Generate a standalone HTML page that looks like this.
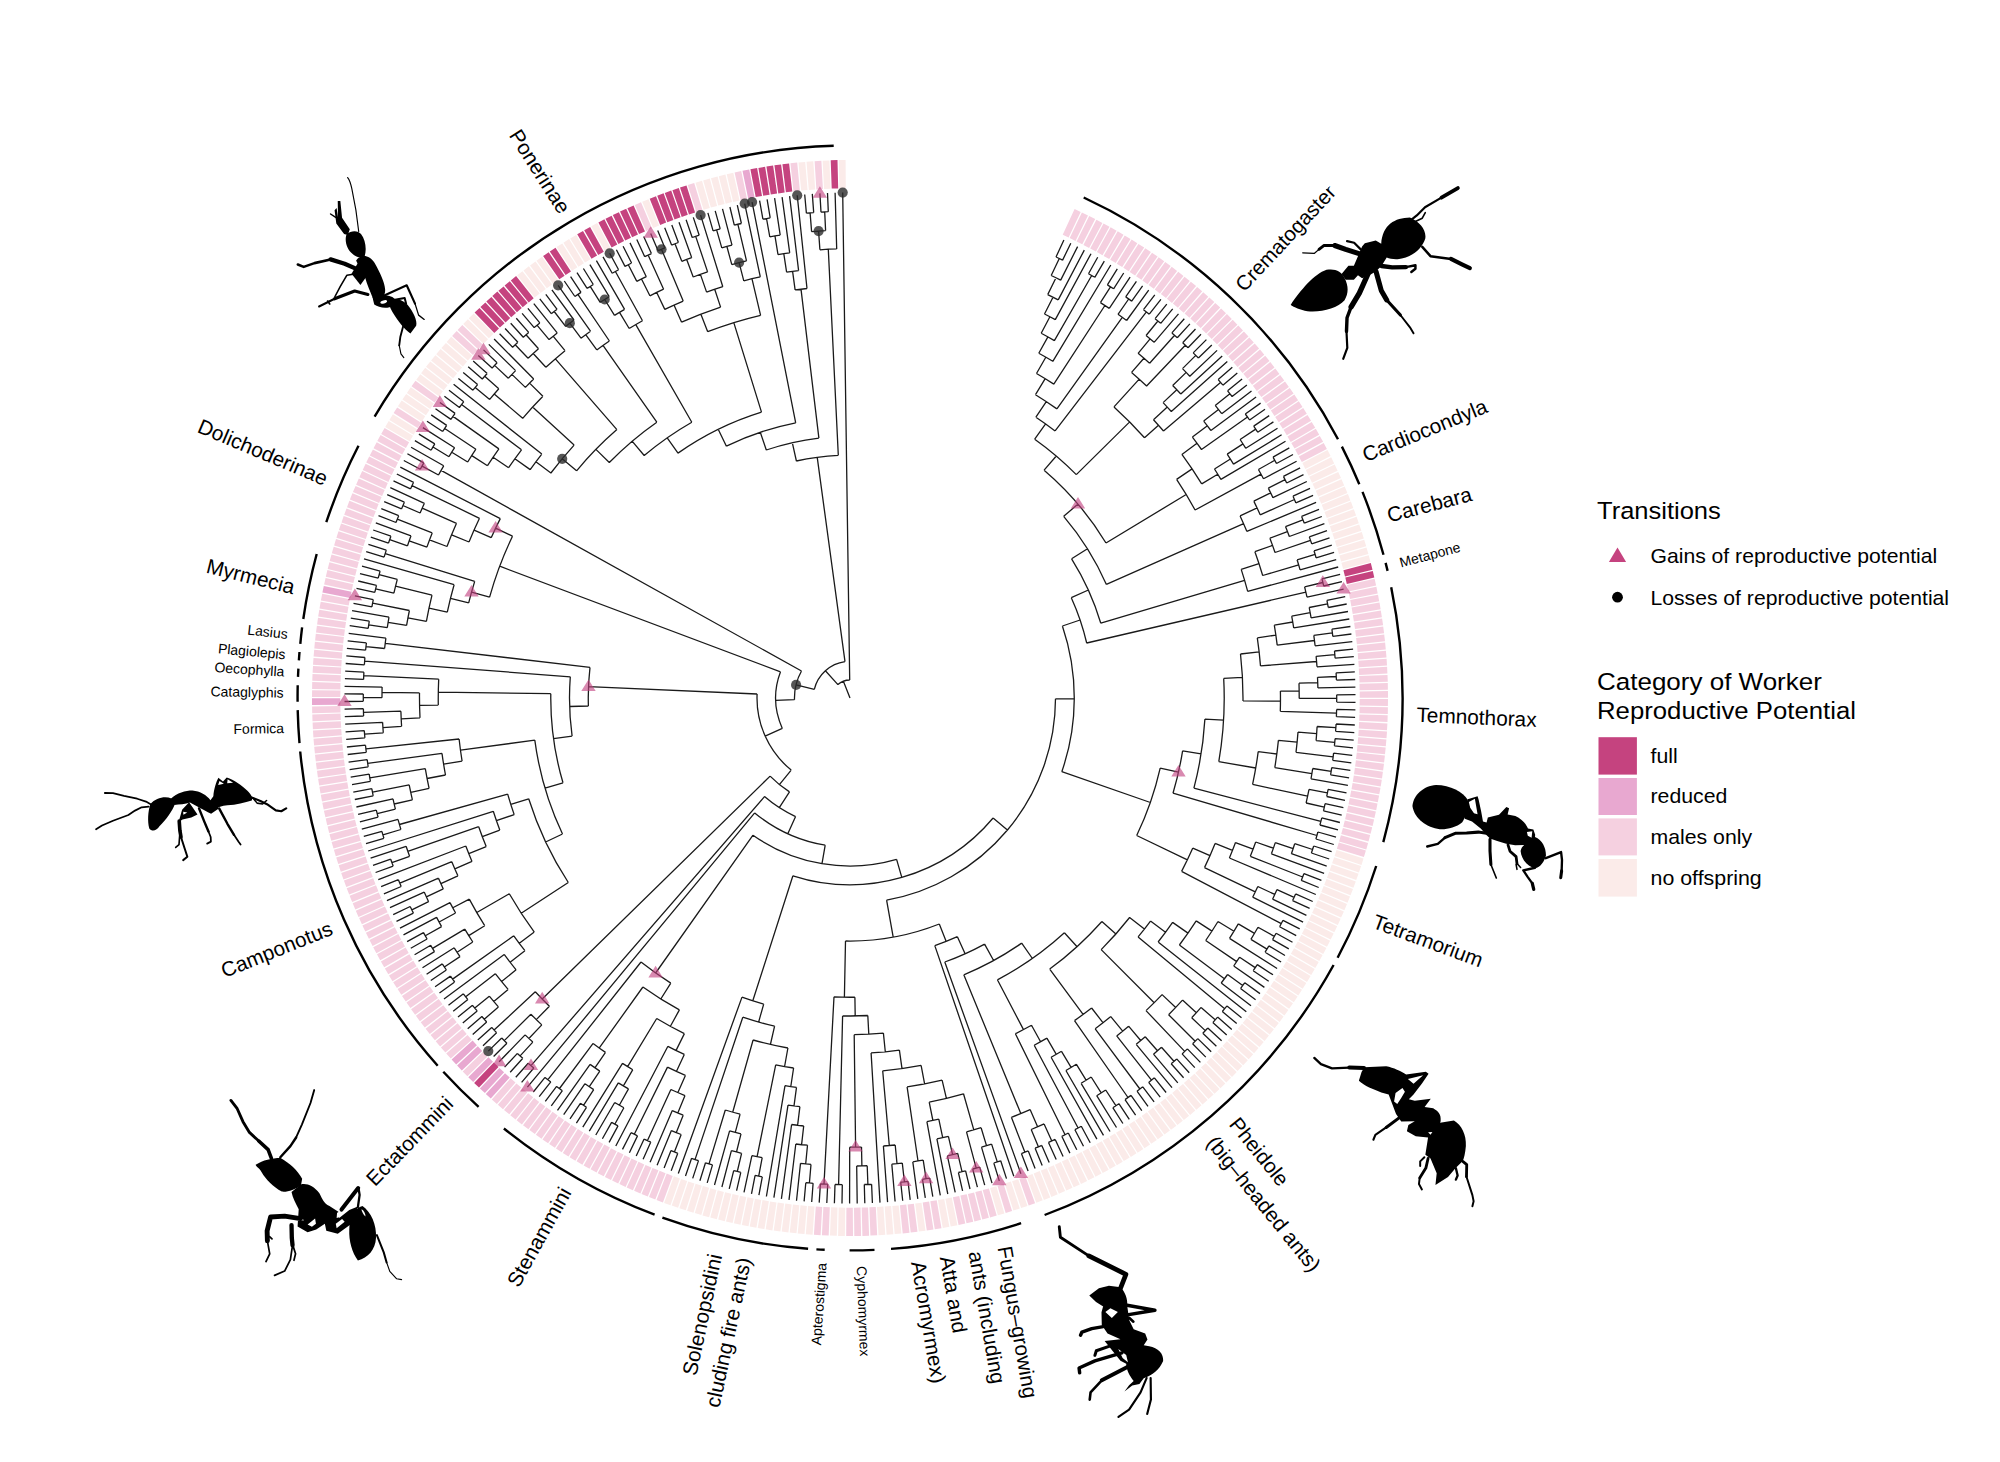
<!DOCTYPE html>
<html><head><meta charset="utf-8"><title>Ant phylogeny</title>
<style>
html,body{margin:0;padding:0;background:#fff;overflow:hidden}
svg{display:block}
text{font-family:"Liberation Sans",sans-serif;fill:#000}
</style></head><body>
<svg width="2000" height="1462" viewBox="0 0 2000 1462">
<rect width="2000" height="1462" fill="#fff"/>
<path fill="#fbebe9" d="M845.8 188.3L845.6 160L838.8 160.1L839.4 188.4ZM830.5 188.7L829.4 160.4L822.6 160.7L824.1 189ZM815.2 189.5L813.3 161.3L806.5 161.8L808.8 190ZM807.6 190.1L805.2 161.9L798.5 162.5L801.2 190.6ZM739.5 200.4L733.3 172.8L726.7 174.3L733.2 201.9ZM732 202.1L725.4 174.6L718.8 176.2L725.7 203.7ZM724.6 204L717.6 176.5L711 178.3L718.3 205.6ZM717.1 205.9L709.8 178.6L703.2 180.4L710.9 207.6ZM709.8 208L702 180.8L695.5 182.7L703.6 209.8ZM659.1 225.4L648.5 199.2L642.2 201.8L653.1 227.9ZM610.5 248.1L597.2 223.1L591.2 226.3L604.8 251.1ZM590.5 259.3L576.1 235L570.2 238.5L585 262.6ZM583.9 263.3L569.1 239.1L563.4 242.7L578.4 266.7ZM577.4 267.3L562.3 243.4L556.5 247.1L572 270.8ZM558.3 280L542.1 256.8L536.5 260.8L553 283.8ZM552 284.5L535.5 261.5L530 265.5L546.8 288.3ZM545.8 289L528.9 266.3L523.5 270.4L540.7 292.9ZM539.7 293.6L522.5 271.2L517.1 275.3L534.6 297.6ZM493.5 333.8L473.7 313.5L468.8 318.3L488.9 338.3ZM488 339.2L467.9 319.2L463.2 324.1L483.5 343.8ZM472.2 355.8L451.2 336.8L446.7 341.9L467.9 360.6ZM467.1 361.6L445.9 342.9L441.4 348L462.9 366.4ZM462.1 367.4L440.6 349L436.2 354.2L458 372.3ZM457.2 373.2L435.4 355.2L431.1 360.4L453.1 378.2ZM452.3 379.2L430.3 361.5L426 366.8L448.3 384.2ZM447.6 385.2L425.2 367.8L421.1 373.2L443.7 390.3ZM442.9 391.3L420.3 374.2L416.3 379.7L439.1 396.4ZM433.9 403.6L410.8 387.3L406.9 392.9L430.2 408.9ZM429.5 409.9L406.2 393.9L402.4 399.6L425.9 415.2ZM425.2 416.3L401.7 400.6L397.9 406.3L421.7 421.7ZM417 429.2L392.9 414.2L389.4 420L413.6 434.7ZM413 435.7L388.7 421.1L385.2 427L409.7 441.2ZM673.9 1176.3L664.1 1202.9L670.5 1205.2L679.9 1178.5ZM681.1 1178.9L671.7 1205.6L678.1 1207.8L687.2 1181ZM688.3 1181.4L679.4 1208.2L685.8 1210.3L694.5 1183.4ZM695.6 1183.8L687.1 1210.7L693.5 1212.7L701.8 1185.7ZM702.9 1186L694.8 1213.1L701.3 1215L709.1 1187.8ZM710.3 1188.2L702.5 1215.4L709.1 1217.2L716.5 1189.9ZM717.7 1190.2L710.3 1217.6L716.9 1219.3L723.9 1191.9ZM725.1 1192.2L718.2 1219.6L724.8 1221.2L731.3 1193.7ZM732.5 1194L726 1221.5L732.6 1223L738.8 1195.4ZM740 1195.7L733.9 1223.3L740.5 1224.7L746.3 1197ZM747.5 1197.3L741.8 1225L748.5 1226.3L753.8 1198.5ZM755 1198.8L749.7 1226.6L756.4 1227.8L761.3 1199.9ZM762.5 1200.1L757.7 1228L764.4 1229.1L768.9 1201.2ZM770.1 1201.4L765.7 1229.3L772.4 1230.4L776.5 1202.4ZM777.7 1202.5L773.7 1230.6L780.4 1231.5L784.1 1203.4ZM785.3 1203.6L781.7 1231.6L788.4 1232.5L791.7 1204.4ZM792.9 1204.5L789.7 1232.6L796.5 1233.3L799.3 1205.2ZM800.5 1205.3L797.7 1233.5L804.5 1234.1L806.9 1205.9ZM808.1 1206L805.8 1234.2L812.6 1234.7L814.5 1206.5ZM831.1 1207.3L830 1235.6L836.8 1235.8L837.5 1207.5ZM838.7 1207.6L838.1 1235.9L844.9 1236L845.2 1207.7ZM877 1207L878.5 1235.2L885.3 1234.8L883.4 1206.6ZM884.7 1206.5L886.6 1234.8L893.4 1234.2L891.1 1206ZM892.3 1205.9L894.7 1234.1L901.4 1233.5L898.7 1205.4ZM915.2 1203.5L918.8 1231.6L925.5 1230.7L921.5 1202.7ZM937.9 1200.1L942.8 1227.9L949.4 1226.7L944.2 1198.9ZM945.4 1198.7L950.7 1226.5L957.4 1225.2L951.7 1197.4ZM990.1 1188.1L997.9 1215.3L1004.4 1213.4L996.3 1186.3ZM1004.8 1183.6L1013.4 1210.6L1019.8 1208.5L1010.9 1181.6ZM1012.1 1181.2L1021.1 1208.1L1027.5 1205.9L1018.2 1179.2ZM1026.5 1176.2L1036.3 1202.7L1042.7 1200.3L1032.5 1173.9ZM1033.7 1173.5L1043.9 1199.9L1050.2 1197.4L1039.7 1171.1ZM1040.8 1170.6L1051.4 1196.9L1057.7 1194.3L1046.8 1168.2ZM1047.9 1167.7L1058.9 1193.8L1065.1 1191.1L1053.8 1165.2ZM1054.9 1164.7L1066.3 1190.6L1072.5 1187.8L1060.8 1162.1ZM1061.9 1161.6L1073.7 1187.3L1079.8 1184.4L1067.8 1158.8ZM1068.9 1158.3L1081 1183.9L1087.1 1180.9L1074.7 1155.5ZM1075.8 1155L1088.3 1180.3L1094.4 1177.3L1081.5 1152.1ZM1082.6 1151.5L1095.5 1176.7L1101.5 1173.6L1088.3 1148.6ZM1089.4 1148L1102.7 1173L1108.7 1169.7L1095.1 1144.9ZM1096.1 1144.3L1109.8 1169.1L1115.7 1165.8L1101.7 1141.2ZM1102.8 1140.6L1116.8 1165.2L1122.7 1161.8L1108.4 1137.4ZM1109.4 1136.7L1123.8 1161.1L1129.7 1157.6L1114.9 1133.4ZM1116 1132.8L1130.8 1156.9L1136.5 1153.3L1121.5 1129.4ZM1122.5 1128.7L1137.6 1152.7L1143.3 1149L1127.9 1125.3ZM1128.9 1124.6L1144.4 1148.3L1150.1 1144.5L1134.3 1121ZM1135.3 1120.4L1151.2 1143.8L1156.8 1140L1140.6 1116.7ZM1141.6 1116L1157.8 1139.2L1163.4 1135.3L1146.9 1112.3ZM1147.9 1111.6L1164.4 1134.6L1169.9 1130.5L1153.1 1107.8ZM1154.1 1107.1L1171 1129.8L1176.4 1125.7L1159.2 1103.2ZM1160.2 1102.4L1177.4 1124.9L1182.8 1120.7L1165.3 1098.5ZM1166.2 1097.7L1183.8 1119.9L1189.1 1115.7L1171.2 1093.7ZM1172.2 1092.9L1190.1 1114.9L1195.3 1110.5L1177.2 1088.8ZM1178.1 1088.1L1196.3 1109.7L1201.5 1105.3L1183 1083.9ZM1183.9 1083.1L1202.5 1104.5L1207.6 1100L1188.8 1078.8ZM1189.7 1078L1208.5 1099.1L1213.6 1094.6L1194.4 1073.7ZM1195.3 1072.9L1214.5 1093.7L1219.5 1089.1L1200.1 1068.5ZM1200.9 1067.6L1220.4 1088.2L1225.3 1083.5L1205.6 1063.2ZM1206.5 1062.3L1226.3 1082.5L1231.1 1077.8L1211 1057.8ZM1211.9 1056.9L1232 1076.9L1236.7 1072L1216.4 1052.3ZM1217.2 1051.4L1237.6 1071.1L1242.3 1066.1L1221.7 1046.8ZM1222.5 1045.9L1243.2 1065.2L1247.8 1060.2L1226.9 1041.2ZM1227.7 1040.2L1248.7 1059.2L1253.2 1054.2L1232 1035.4ZM1232.8 1034.5L1254.1 1053.2L1258.5 1048.1L1237 1029.7ZM1237.8 1028.7L1259.4 1047.1L1263.7 1041.9L1242 1023.8ZM1242.7 1022.9L1264.6 1040.9L1268.9 1035.6L1246.8 1017.9ZM1247.6 1016.9L1269.7 1034.6L1273.9 1029.3L1251.6 1011.9ZM1252.3 1010.9L1274.7 1028.3L1278.8 1022.9L1256.3 1005.8ZM1257 1004.8L1279.6 1021.9L1283.6 1016.4L1260.8 999.7ZM1261.6 998.7L1284.4 1015.4L1288.4 1009.9L1265.3 993.5ZM1266 992.5L1289.1 1008.8L1293 1003.2L1269.7 987.2ZM1270.4 986.2L1293.8 1002.2L1297.6 996.6L1274 980.8ZM1274.7 979.8L1298.3 995.5L1302 989.8L1278.2 974.4ZM1278.9 973.4L1302.7 988.7L1306.3 983L1282.3 968ZM1283 966.9L1307 981.9L1310.6 976.1L1286.3 961.4ZM1287 960.4L1311.2 975L1314.7 969.1L1290.2 954.9ZM1290.9 953.8L1315.3 968L1318.7 962.1L1294.1 948.2ZM1294.7 947.1L1319.3 961L1322.6 955L1297.8 941.5ZM1298.4 940.4L1323.2 953.9L1326.4 947.9L1301.4 934.8ZM1301.9 933.7L1327 946.8L1330.1 940.7L1304.9 927.9ZM1305.4 926.9L1330.7 939.6L1333.7 933.5L1308.3 921.1ZM1308.8 920L1334.3 932.3L1337.2 926.2L1311.6 914.2ZM1312.1 913.1L1337.8 925L1340.6 918.8L1314.8 907.2ZM1315.3 906.1L1341.1 917.6L1343.9 911.4L1317.9 900.2ZM1318.4 899.1L1344.4 910.2L1347 904L1320.9 893.1ZM1321.3 892L1347.5 902.8L1350 896.5L1323.7 886ZM1324.2 884.9L1350.5 895.3L1353 888.9L1326.5 878.9ZM1327 877.8L1353.4 887.7L1355.8 881.4L1329.2 871.7ZM1329.6 870.6L1356.2 880.1L1358.5 873.7L1331.7 864.5ZM1332.1 863.3L1358.9 872.5L1361.1 866.1L1334.2 857.2ZM1334.6 856.1L1361.5 864.9L1363.5 858.4L1336.5 849.9ZM1343.1 569L1370.5 561.9L1368.7 555.3L1341.4 562.8ZM1341.1 561.6L1368.4 554.1L1366.5 547.5L1339.4 555.4ZM1339 554.3L1366.2 546.3L1364.2 539.8L1337.2 548.1ZM1336.8 546.9L1363.8 538.5L1361.8 532.1L1334.9 540.8ZM1334.5 539.6L1361.4 530.8L1359.2 524.4L1332.4 533.5ZM1332 532.4L1358.8 523.2L1356.6 516.8L1329.9 526.3ZM1329.5 525.1L1356.1 515.5L1353.8 509.2L1327.3 519.1ZM1326.8 518L1353.3 508L1350.9 501.6L1324.5 511.9ZM1324.1 510.8L1350.4 500.4L1347.9 494.1L1321.7 504.8ZM1321.2 503.7L1347.4 492.9L1344.7 486.6L1318.7 497.8ZM1318.2 496.6L1344.2 485.5L1341.5 479.2L1315.7 490.7ZM1315.2 489.6L1341 478.1L1338.2 471.9L1312.5 483.8ZM1312 482.7L1337.6 470.7L1334.7 464.6L1309.2 476.8ZM1308.7 475.7L1334.2 463.4L1331.2 457.3L1305.8 470ZM1305.3 468.9L1330.6 456.1L1327.5 450.1L1302.4 463.1Z"/><path fill="#c5437f" d="M838.2 188.4L837.5 160.1L830.7 160.3L831.7 188.6ZM792.3 191.6L789.1 163.5L782.4 164.3L785.9 192.3ZM784.7 192.5L781.1 164.4L774.4 165.3L778.3 193.4ZM777.1 193.5L773.1 165.5L766.4 166.5L770.8 194.5ZM769.6 194.7L765.1 166.7L758.4 167.9L763.2 195.7ZM762 196L757.1 168.1L750.4 169.3L755.7 197.1ZM695.1 212.4L686.5 185.4L680 187.6L689 214.4ZM687.8 214.8L678.8 188L672.4 190.2L681.7 216.9ZM680.6 217.3L671.2 190.6L664.8 192.9L674.5 219.5ZM673.4 219.9L663.6 193.3L657.2 195.7L667.3 222.2ZM666.2 222.6L656 196.2L649.7 198.7L660.2 224.9ZM645 231.4L633.6 205.4L627.4 208.2L639.1 234ZM638 234.5L626.2 208.8L620 211.6L632.1 237.2ZM631 237.7L618.9 212.2L612.8 215.1L625.2 240.5ZM624.1 241.1L611.6 215.7L605.5 218.8L618.4 244ZM617.3 244.5L604.4 219.3L598.4 222.5L611.6 247.5ZM603.8 251.7L590.1 226.9L584.2 230.3L598.2 254.9ZM597.1 255.5L583 230.9L577.2 234.3L591.5 258.7ZM571 271.5L555.5 247.8L549.8 251.5L565.6 275ZM564.6 275.7L548.7 252.3L543.1 256.1L559.3 279.3ZM533.7 298.3L516.1 276.1L510.8 280.4L528.7 302.4ZM527.7 303.1L509.8 281.2L504.6 285.5L522.7 307.2ZM521.8 308L503.6 286.4L498.4 290.8L516.9 312.2ZM516 313L497.4 291.6L492.3 296.1L511.2 317.2ZM510.2 318.1L491.4 297L486.3 301.5L505.5 322.4ZM504.6 323.2L485.4 302.4L480.4 307L499.9 327.6ZM499 328.4L479.5 307.9L474.6 312.6L494.3 332.9ZM493.8 1062.6L474.1 1082.9L479 1087.6L498.5 1067.1ZM1346.8 583.9L1374.3 577.6L1372.8 571L1345.3 577.6ZM1345 576.4L1372.5 569.7L1370.8 563.1L1343.4 570.2Z"/><path fill="#f5d0e0" d="M822.9 189L821.4 160.8L814.6 161.2L816.4 189.4ZM799.9 190.8L797.2 162.6L790.4 163.3L793.5 191.4ZM747 198.8L741.2 171.1L734.6 172.5L740.7 200.2ZM702.4 210.1L694.2 183L687.7 185.1L696.3 212ZM652 228.3L641 202.3L634.8 204.9L646.1 230.9ZM482.7 344.6L462.3 325L457.6 329.9L478.2 349.3ZM477.4 350.2L456.7 330.9L452.1 335.9L473 354.9ZM438.4 397.4L415.5 380.7L411.5 386.2L434.6 402.6ZM421.1 422.7L397.2 407.4L393.6 413.1L417.6 428.1ZM409.1 442.3L384.6 428.1L381.2 434L405.9 447.9ZM405.3 449L380.6 435.1L377.3 441.1L402.2 454.6ZM401.6 455.7L376.7 442.2L373.5 448.2L398.6 461.3ZM398 462.4L372.9 449.4L369.8 455.4L395.1 468.2ZM394.5 469.3L369.2 456.6L366.2 462.6L391.7 475ZM391.1 476.1L365.6 463.8L362.7 469.9L388.4 481.9ZM387.8 483L362.2 471.1L359.4 477.3L385.2 488.9ZM384.7 490L358.8 478.5L356.1 484.7L382.1 495.9ZM381.6 497L355.6 485.9L352.9 492.1L379.1 503ZM378.6 504.1L352.4 493.3L349.9 499.6L376.2 510.1ZM375.8 511.2L349.4 500.8L347 507.2L373.4 517.2ZM373 518.4L346.5 508.4L344.2 514.8L370.8 524.4ZM370.4 525.5L343.7 516L341.5 522.4L368.2 531.6ZM367.8 532.8L341.1 523.6L338.9 530L365.8 538.9ZM365.4 540L338.5 531.3L336.4 537.7L363.4 546.2ZM363.1 547.3L336 539L334.1 545.5L361.2 553.5ZM360.9 554.7L333.7 546.7L331.8 553.2L359.1 560.9ZM358.8 562L331.5 554.5L329.7 561.1L357.1 568.3ZM356.8 569.4L329.4 562.3L327.7 568.9L355.2 575.7ZM354.9 576.9L327.4 570.1L325.8 576.8L353.4 583.1ZM353.1 584.3L325.6 578L324.1 584.6L351.7 590.6ZM349.9 599.3L322.2 593.8L320.9 600.5L348.7 605.6ZM348.5 606.8L320.7 601.8L319.5 608.5L347.4 613.2ZM347.2 614.4L319.3 609.7L318.2 616.4L346.2 620.7ZM346 622L318 617.7L317.1 624.5L345.1 628.3ZM344.9 629.5L316.9 625.7L316 632.5L344.1 635.9ZM343.9 637.1L315.8 633.8L315.1 640.5L343.2 643.5ZM343.1 644.7L314.9 641.8L314.3 648.5L342.5 651.2ZM342.3 652.4L314.2 649.8L313.6 656.6L341.8 658.8ZM341.7 660L313.5 657.9L313 664.7L341.3 666.4ZM341.2 667.6L313 666L312.6 672.7L340.9 674.1ZM340.8 675.3L312.5 674L312.3 680.8L340.6 681.7ZM340.5 683L312.2 682.1L312.1 688.9L340.4 689.4ZM340.4 690.6L312.1 690.2L312 697L340.3 697.1ZM340.4 705.9L312.1 706.4L312.2 713.2L340.5 712.4ZM340.5 713.6L312.3 714.5L312.5 721.2L340.8 720ZM340.8 721.3L312.6 722.5L312.9 729.3L341.2 727.7ZM341.2 728.9L313 730.6L313.4 737.4L341.7 735.3ZM341.8 736.5L313.5 738.7L314.1 745.5L342.3 743ZM342.4 744.2L314.2 746.7L314.9 753.5L343 750.6ZM343.1 751.8L315 754.8L315.8 761.5L343.9 758.2ZM344 759.4L315.9 762.8L316.8 769.6L344.8 765.8ZM345 767L317 770.8L317.9 777.6L345.9 773.4ZM346.1 774.6L318.1 778.8L319.2 785.6L347.1 781ZM347.3 782.2L319.4 786.8L320.5 793.5L348.4 788.5ZM348.6 789.7L320.8 794.8L322 801.5L349.8 796ZM350.1 797.2L322.3 802.7L323.7 809.4L351.3 803.5ZM351.6 804.7L323.9 810.7L325.4 817.3L353 811ZM353.3 812.2L325.7 818.6L327.2 825.2L354.7 818.5ZM355 819.7L327.6 826.4L329.2 833L356.6 825.9ZM356.9 827.1L329.5 834.3L331.3 840.8L358.6 833.3ZM358.9 834.5L331.6 842.1L333.5 848.6L360.7 840.7ZM361 841.9L333.9 849.8L335.8 856.3L362.9 848ZM363.2 849.2L336.2 857.6L338.3 864.1L365.2 855.3ZM365.6 856.5L338.7 865.3L340.8 871.7L367.6 862.6ZM368 863.7L341.2 873L343.5 879.4L370.1 869.8ZM370.5 871L343.9 880.6L346.3 887L372.8 877ZM373.2 878.2L346.7 888.2L349.2 894.5L375.5 884.2ZM376 885.3L349.6 895.7L352.2 902L378.4 891.3ZM378.8 892.4L352.7 903.2L355.3 909.5L381.3 898.3ZM381.8 899.5L355.8 910.7L358.5 916.9L384.4 905.4ZM384.9 906.5L359.1 918.1L361.9 924.2L387.6 912.3ZM388.1 913.5L362.4 925.4L365.3 931.6L390.8 919.3ZM391.4 920.4L365.9 932.7L368.9 938.8L394.2 926.1ZM394.8 927.2L369.5 940L372.6 946L397.7 933ZM398.3 934.1L373.2 947.2L376.4 953.2L401.3 939.7ZM401.9 940.8L377 954.3L380.2 960.3L405 946.5ZM405.6 947.5L380.9 961.4L384.2 967.3L408.7 953.1ZM409.4 954.2L384.9 968.4L388.3 974.3L412.6 959.7ZM413.3 960.8L389 975.4L392.5 981.2L416.6 966.3ZM417.3 967.3L393.2 982.3L396.9 988L420.7 972.7ZM421.4 973.8L397.6 989.1L401.3 994.8L424.9 979.2ZM425.5 980.2L402 995.9L405.8 1001.5L429.1 985.5ZM429.8 986.5L406.5 1002.6L410.4 1008.1L433.5 991.8ZM434.2 992.8L411.1 1009.2L415.1 1014.7L438 998ZM438.7 999L415.9 1015.8L419.9 1021.2L442.5 1004.2ZM443.3 1005.2L420.7 1022.2L424.8 1027.6L447.2 1010.3ZM447.9 1011.3L425.6 1028.7L429.8 1034L451.9 1016.3ZM452.7 1017.3L430.6 1035L434.9 1040.3L456.7 1022.3ZM457.5 1023.2L435.7 1041.3L440.1 1046.5L461.7 1028.1ZM462.5 1029.1L440.9 1047.4L445.4 1052.6L466.7 1033.9ZM467.5 1034.9L446.2 1053.6L450.8 1058.6L471.8 1039.7ZM483.1 1051.8L462.7 1071.4L467.4 1076.3L487.5 1056.4ZM510.6 1078.3L491.8 1099.4L496.9 1103.9L515.5 1082.6ZM516.4 1083.4L497.9 1104.8L503 1109.2L521.3 1087.5ZM522.2 1088.3L504 1110L509.3 1114.3L527.2 1092.4ZM528.1 1093.2L510.3 1115.2L515.6 1119.4L533.2 1097.2ZM534.1 1098L516.6 1120.2L521.9 1124.4L539.2 1102ZM540.2 1102.7L523 1125.2L528.4 1129.3L545.3 1106.6ZM546.3 1107.3L529.4 1130.1L534.9 1134.1L551.5 1111.1ZM552.5 1111.8L535.9 1134.8L541.5 1138.8L557.7 1115.6ZM558.7 1116.3L542.5 1139.5L548.1 1143.3L564 1119.9ZM565 1120.6L549.2 1144.1L554.9 1147.8L570.4 1124.2ZM571.4 1124.8L556 1148.5L561.7 1152.2L576.8 1128.3ZM577.9 1129L562.8 1152.9L568.5 1156.5L583.3 1132.4ZM584.4 1133L569.6 1157.2L575.4 1160.7L589.9 1136.3ZM590.9 1137L576.6 1161.3L582.4 1164.7L596.5 1140.2ZM597.6 1140.8L583.6 1165.4L589.5 1168.7L603.2 1144ZM604.3 1144.5L590.6 1169.3L596.6 1172.6L609.9 1147.6ZM611 1148.2L597.7 1173.2L603.7 1176.3L616.7 1151.2ZM617.8 1151.7L604.9 1176.9L611 1180L623.5 1154.6ZM624.6 1155.2L612.1 1180.6L618.2 1183.5L630.4 1158ZM631.5 1158.5L619.4 1184.1L625.6 1186.9L637.4 1161.2ZM638.5 1161.7L626.7 1187.5L632.9 1190.3L644.3 1164.4ZM645.5 1164.9L634.1 1190.8L640.4 1193.5L651.4 1167.4ZM652.5 1167.9L641.5 1194L647.8 1196.6L658.5 1170.3ZM659.6 1170.8L649 1197.1L655.3 1199.5L665.6 1173.2ZM666.7 1173.6L656.5 1200L662.9 1202.4L672.7 1175.9ZM815.8 1206.5L813.9 1234.8L820.6 1235.2L822.2 1206.9ZM823.4 1207L821.9 1235.3L828.7 1235.6L829.8 1207.3ZM846.4 1207.7L846.2 1236L853 1236L852.8 1207.7ZM854 1207.7L854.3 1236L861.1 1235.9L860.5 1207.6ZM861.7 1207.6L862.4 1235.9L869.1 1235.7L868.1 1207.4ZM869.4 1207.3L870.4 1235.6L877.2 1235.3L875.8 1207ZM899.9 1205.2L902.7 1233.4L909.5 1232.7L906.3 1204.6ZM907.6 1204.4L910.7 1232.6L917.5 1231.7L913.9 1203.7ZM922.7 1202.5L926.8 1230.5L933.5 1229.5L929.1 1201.5ZM930.3 1201.3L934.8 1229.3L941.5 1228.2L936.7 1200.3ZM952.9 1197.2L958.6 1224.9L965.3 1223.5L959.2 1195.9ZM960.4 1195.6L966.5 1223.2L973.2 1221.7L966.7 1194.2ZM967.9 1193.9L974.4 1221.4L981 1219.8L974.1 1192.4ZM975.3 1192.1L982.3 1219.5L988.9 1217.8L981.6 1190.4ZM982.7 1190.1L990.1 1217.4L996.7 1215.6L988.9 1188.4ZM997.5 1185.9L1005.7 1213L1012.1 1211L1003.6 1184ZM1019.3 1178.8L1028.7 1205.5L1035.1 1203.2L1025.4 1176.6ZM1336.9 848.8L1363.9 857.1L1365.9 850.6L1338.8 842.6ZM1339.1 841.4L1366.3 849.4L1368.1 842.9L1340.9 835.3ZM1341.2 834.1L1368.5 841.6L1370.2 835.1L1342.9 827.9ZM1343.2 826.7L1370.6 833.8L1372.2 827.2L1344.8 820.4ZM1345.1 819.2L1372.6 826L1374.1 819.4L1346.6 813ZM1346.8 811.8L1374.4 818.1L1375.9 811.5L1348.2 805.5ZM1348.5 804.3L1376.2 810.2L1377.5 803.6L1349.8 798ZM1350 796.8L1377.8 802.3L1379.1 795.6L1351.2 790.5ZM1351.5 789.3L1379.3 794.3L1380.5 787.7L1352.6 782.9ZM1352.8 781.7L1380.7 786.4L1381.8 779.7L1353.8 775.4ZM1354 774.2L1382 778.4L1382.9 771.7L1354.9 767.8ZM1355.1 766.6L1383.1 770.4L1384 763.7L1355.9 760.2ZM1356 759L1384.1 762.4L1384.9 755.6L1356.8 752.6ZM1356.9 751.4L1385 754.3L1385.7 747.6L1357.5 745ZM1357.6 743.7L1385.8 746.3L1386.4 739.5L1358.2 737.3ZM1358.3 736.1L1386.5 738.2L1387 731.5L1358.7 729.7ZM1358.8 728.5L1387 730.2L1387.4 723.4L1359.1 722ZM1359.2 720.8L1387.5 722.1L1387.7 715.3L1359.4 714.4ZM1359.5 713.2L1387.8 714L1387.9 707.2L1359.6 706.7ZM1359.6 705.5L1387.9 705.9L1388 699.1L1359.7 699.1ZM1359.7 697.8L1388 697.8L1388 691L1359.7 691.4ZM1359.6 690.2L1387.9 689.7L1387.8 683L1359.5 683.7ZM1359.5 682.5L1387.8 681.7L1387.5 674.9L1359.2 676.1ZM1359.2 674.9L1387.4 673.6L1387.1 666.8L1358.8 668.4ZM1358.8 667.2L1387 665.5L1386.6 658.7L1358.3 660.8ZM1358.2 659.6L1386.5 657.4L1385.9 650.7L1357.7 653.2ZM1357.6 651.9L1385.8 649.4L1385.1 642.6L1357 645.5ZM1356.9 644.3L1385 641.3L1384.2 634.6L1356.1 637.9ZM1356 636.7L1384.1 633.3L1383.2 626.6L1355.2 630.3ZM1355 629.1L1383.1 625.3L1382.1 618.6L1354.1 622.7ZM1353.9 621.5L1381.9 617.3L1380.8 610.6L1352.9 615.2ZM1352.7 614L1380.6 609.3L1379.5 602.6L1351.6 607.6ZM1351.4 606.4L1379.2 601.3L1378 594.7L1350.2 600.1ZM1350 598.9L1377.7 593.4L1376.4 586.7L1348.7 592.6ZM1348.4 591.4L1376.1 585.5L1374.6 578.8L1347 585.1ZM1301.8 462.1L1326.9 449L1323.7 443L1298.8 456.4ZM1298.2 455.3L1323.1 441.8L1319.8 435.9L1295.1 449.6ZM1294.5 448.6L1319.2 434.7L1315.8 428.8L1291.3 443ZM1290.7 441.9L1315.2 427.7L1311.7 421.9L1287.4 436.4ZM1286.8 435.3L1311.1 420.7L1307.5 414.9L1283.5 429.8ZM1282.8 428.8L1306.8 413.8L1303.2 408.1L1279.4 423.4ZM1278.7 422.3L1302.5 407L1298.8 401.3L1275.2 416.9ZM1274.5 415.9L1298.1 400.2L1294.3 394.6L1270.9 410.6ZM1270.2 409.6L1293.6 393.5L1289.7 388L1266.6 404.3ZM1265.9 403.3L1288.9 386.9L1285 381.4L1262.1 398.1ZM1261.4 397.1L1284.2 380.4L1280.2 374.9L1257.5 391.9ZM1256.8 390.9L1279.4 373.9L1275.3 368.5L1252.9 385.8ZM1252.1 384.8L1274.5 367.4L1270.3 362.1L1248.2 379.8ZM1247.4 378.8L1269.5 361.1L1265.2 355.8L1243.3 373.8ZM1242.5 372.9L1264.3 354.8L1260 349.6L1238.4 368ZM1237.6 367L1259.1 348.6L1254.7 343.5L1233.4 362.2ZM1232.6 361.2L1253.8 342.5L1249.3 337.5L1228.3 356.4ZM1227.5 355.5L1248.5 336.5L1243.9 331.5L1223.1 350.8ZM1222.3 349.9L1243 330.6L1238.3 325.6L1217.9 345.2ZM1217 344.3L1237.4 324.7L1232.7 319.8L1212.5 339.7ZM1211.7 338.9L1231.8 318.9L1226.9 314.1L1207.1 334.3ZM1206.2 333.5L1226 313.2L1221.1 308.5L1201.6 329ZM1200.7 328.1L1220.2 307.6L1215.2 303L1196 323.7ZM1195.1 322.9L1214.3 302.1L1209.3 297.5L1190.4 318.6ZM1189.4 317.8L1208.3 296.7L1203.2 292.2L1184.6 313.5ZM1183.7 312.7L1202.2 291.3L1197.1 286.9L1178.8 308.5ZM1177.9 307.7L1196.1 286.1L1190.8 281.7L1172.9 303.6ZM1172 302.9L1189.8 280.9L1184.5 276.7L1166.9 298.8ZM1166 298.1L1183.5 275.9L1178.2 271.7L1160.9 294.1ZM1159.9 293.4L1177.1 270.9L1171.7 266.8L1154.8 289.5ZM1153.8 288.7L1170.7 266L1165.2 262L1148.6 284.9ZM1147.6 284.2L1164.2 261.3L1158.6 257.3L1142.4 280.5ZM1141.4 279.8L1157.6 256.6L1152 252.7L1136.1 276.2ZM1135.1 275.5L1150.9 252L1145.2 248.2L1129.7 271.9ZM1128.7 271.2L1144.2 247.5L1138.4 243.9L1123.3 267.7ZM1122.2 267.1L1137.3 243.2L1131.6 239.6L1116.8 263.7ZM1115.7 263L1130.5 238.9L1124.7 235.4L1110.2 259.7ZM1109.2 259.1L1123.5 234.7L1117.7 231.3L1103.6 255.9ZM1102.5 255.3L1116.6 230.7L1110.6 227.3L1096.9 252.1ZM1095.9 251.5L1109.5 226.7L1103.5 223.5L1090.2 248.4ZM1089.1 247.9L1102.4 222.9L1096.4 219.7L1083.4 244.9ZM1082.3 244.3L1095.2 219.1L1089.2 216.1L1076.6 241.4ZM1075.5 240.9L1088 215.5L1081.9 212.5L1069.7 238.1ZM1068.6 237.5L1080.7 212L1074.6 209.1L1062.7 234.8Z"/><path fill="#e8a8d0" d="M754.5 197.3L749.2 169.5L742.5 170.8L748.2 198.6ZM351.5 591.8L323.8 585.9L322.4 592.6L350.2 598.1ZM340.3 698.3L312 698.3L312 705.1L340.3 704.7ZM472.6 1040.6L451.6 1059.6L456.2 1064.6L476.9 1045.3ZM477.8 1046.2L457.1 1065.5L461.8 1070.5L482.2 1050.9ZM488.4 1057.2L468.3 1077.2L473.2 1082L493 1061.8ZM499.4 1067.9L479.9 1088.5L484.9 1093.1L504.1 1072.3ZM505 1073.2L485.8 1094L490.8 1098.6L509.7 1077.5Z"/>
<path d="M849.7 680A18 18 0 0 0 837.9 684.6M849.7 680L842.7 192.6M837.9 684.6L825.4 670.7M845 661.6A36.8 36.8 0 0 0 814.3 689.3M845 661.6L817.2 457.2M838.3 455.3A243 243 0 0 0 796.4 461M838.3 455.3L828.3 249.3M836.7 248.9A449.2 449.2 0 0 0 819.9 249.8M836.7 248.9L835.1 192.7M819.9 249.8L818.6 231.1M825.6 230.6A468 468 0 0 0 811.6 231.6M825.6 230.6L824.7 211.9M828.3 211.7A486.8 486.8 0 0 0 821 212.1M828.3 211.7L827.5 193M821 212.1L819.9 193.4M811.6 231.6L810.1 212.9M813.7 212.6A486.8 486.8 0 0 0 806.4 213.2M813.7 212.6L812.3 193.9M806.4 213.2L804.7 194.5M796.4 461L792.3 442.7M818.9 438.1A261.8 261.8 0 0 0 766.3 450M818.9 438.1L801 289.2M807 288.5A411.8 411.8 0 0 0 795.1 289.9M807 288.5L797.2 195.3M795.1 289.9L792.6 271.3M798.6 270.6A430.5 430.5 0 0 0 786.6 272.2M798.6 270.6L789.6 196.1M786.6 272.2L783.8 253.7M789.7 252.8A449.2 449.2 0 0 0 778 254.6M789.7 252.8L782.1 197.1M778 254.6L775 236.1M780.2 235.2A468 468 0 0 0 769.8 236.9M780.2 235.2L774.6 198.2M769.8 236.9L766.5 218.5M770.2 217.8A486.8 486.8 0 0 0 762.9 219.1M770.2 217.8L767.1 199.3M762.9 219.1L759.6 200.7M766.3 450L760.3 432.2M795.7 422.8A280.5 280.5 0 0 0 726.4 446.2M795.7 422.8L752.1 202.1M726.4 446.2L718.2 429.3M761.5 412.1A299.2 299.2 0 0 0 678 453.1M761.5 412.1L733.8 322.6M760.6 315.3A393 393 0 0 0 707.7 331.7M760.6 315.3L752 278.8M760.3 276.9A430.5 430.5 0 0 0 743.8 280.8M760.3 276.9L744.7 203.6M743.8 280.8L739.1 262.6M746.5 260.8A449.2 449.2 0 0 0 731.8 264.6M746.5 260.8L737.9 224.3M741.4 223.5A486.8 486.8 0 0 0 734.3 225.2M741.4 223.5L737.3 205.2M734.3 225.2L729.9 207M731.8 264.6L726.9 246.5M732 245.1A468 468 0 0 0 721.8 247.9M732 245.1L722.5 208.8M721.8 247.9L716.6 229.9M720.2 228.9A486.8 486.8 0 0 0 713.1 230.9M720.2 228.9L715.2 210.8M713.1 230.9L707.9 212.9M707.7 331.7L700.9 314.2M720.6 307.1A411.8 411.8 0 0 0 681.6 322.2M720.6 307.1L714.7 289.3M722.8 286.7A430.5 430.5 0 0 0 706.6 292.1M722.8 286.7L700.6 215.1M706.6 292.1L700.4 274.4M707.6 271.9A449.2 449.2 0 0 0 693.2 277M707.6 271.9L695.7 236.4M699.2 235.2A486.8 486.8 0 0 0 692.2 237.5M699.2 235.2L693.3 217.4M692.2 237.5L686.1 219.8M693.2 277L686.7 259.4M691.7 257.6A468 468 0 0 0 681.8 261.3M691.7 257.6L679 222.3M681.8 261.3L675 243.8M678.4 242.5A486.8 486.8 0 0 0 671.6 245.1M678.4 242.5L671.8 224.9M671.6 245.1L664.7 227.7M681.6 322.2L674 305.1M683.2 301.1A430.5 430.5 0 0 0 664.8 309.4M683.2 301.1L661.5 249.3M664.8 247.8A486.8 486.8 0 0 0 658.1 250.7M664.8 247.8L657.7 230.5M658.1 250.7L650.7 233.4M664.8 309.4L656.7 292.5M663.6 289.2A449.2 449.2 0 0 0 649.9 295.8M663.6 289.2L648.1 255.1M651.4 253.6A486.8 486.8 0 0 0 644.7 256.7M651.4 253.6L643.7 236.5M644.7 256.7L636.8 239.6M649.9 295.8L641.5 279M646.3 276.7A468 468 0 0 0 636.8 281.4M646.3 276.7L630 242.9M636.8 281.4L628.3 264.7M631.6 263A486.8 486.8 0 0 0 625 266.4M631.6 263L623.1 246.3M625 266.4L616.4 249.7M678 453.1L667.2 437.8M691.8 422.2A318 318 0 0 0 644.2 455.5M691.8 422.2L635.8 324.6M642.5 320.8A430.5 430.5 0 0 0 629.2 328.5M642.5 320.8L615.4 271.5M618.6 269.8A486.8 486.8 0 0 0 612.2 273.3M618.6 269.8L609.7 253.3M612.2 273.3L603 256.9M629.2 328.5L619.5 312.4M624.6 309.4A449.2 449.2 0 0 0 614.5 315.4M624.6 309.4L596.4 260.7M614.5 315.4L604.7 299.5M609.2 296.7A468 468 0 0 0 600.2 302.3M609.2 296.7L589.9 264.6M600.2 302.3L590.2 286.4M593.3 284.5A486.8 486.8 0 0 0 587.1 288.4M593.3 284.5L583.4 268.5M587.1 288.4L577 272.6M644.2 455.5L632.1 441.2M656.8 422.2A336.8 336.8 0 0 0 609.3 462.5M656.8 422.2L603 345.4M609.4 341A430.5 430.5 0 0 0 596.8 349.9M609.4 341L577.9 294.4M581 292.4A486.8 486.8 0 0 0 574.9 296.5M581 292.4L570.6 276.7M574.9 296.5L564.3 281M596.8 349.9L585.7 334.7M590.5 331.2A449.2 449.2 0 0 0 581 338.2M590.5 331.2L558.1 285.3M581 338.2L569.8 323.2M574 320A468 468 0 0 0 565.6 326.4M574 320L551.9 289.8M565.6 326.4L554.2 311.5M557.1 309.3A486.8 486.8 0 0 0 551.3 313.7M557.1 309.3L545.8 294.3M551.3 313.7L539.8 298.9M609.3 462.5L595.9 449.4M616.9 429.6A355.5 355.5 0 0 0 576.6 470.8M616.9 429.6L555.4 358.9M565 350.7A449.2 449.2 0 0 0 545.9 367.3M565 350.7L553.1 336.2M557.2 332.9A468 468 0 0 0 549.1 339.6M557.2 332.9L533.8 303.6M549.1 339.6L537 325.2M539.8 322.9A486.8 486.8 0 0 0 534.2 327.6M539.8 322.9L527.9 308.4M534.2 327.6L522.1 313.3M545.9 367.3L533.2 353.5M538.5 348.8A468 468 0 0 0 528.1 358.3M538.5 348.8L526 334.8M528.7 332.4A486.8 486.8 0 0 0 523.3 337.2M528.7 332.4L516.3 318.3M523.3 337.2L510.7 323.3M528.1 358.3L515.2 344.7M517.9 342.2A486.8 486.8 0 0 0 512.6 347.2M517.9 342.2L505.1 328.5M512.6 347.2L499.6 333.7M576.6 470.8L562.2 458.8M574.1 445.1A374.2 374.2 0 0 0 550.9 473M574.1 445.1L532.6 407.1M542.9 396.3A430.5 430.5 0 0 0 522.7 418.3M542.9 396.3L529.6 383.1M533.7 379A449.2 449.2 0 0 0 525.4 387.4M533.7 379L494.1 339M525.4 387.4L511.9 374.4M515.6 370.6A468 468 0 0 0 508.3 378.2M515.6 370.6L488.8 344.4M508.3 378.2L494.6 365.4M497.1 362.8A486.8 486.8 0 0 0 492.1 368.1M497.1 362.8L483.5 349.9M492.1 368.1L478.3 355.4M522.7 418.3L494.2 394M498.8 388.7A468 468 0 0 0 489.7 399.4M498.8 388.7L484.7 376.3M487.2 373.5A486.8 486.8 0 0 0 482.3 379M487.2 373.5L473.2 361M482.3 379L468.2 366.7M489.7 399.4L475.2 387.4M477.6 384.6A486.8 486.8 0 0 0 472.9 390.2M477.6 384.6L463.2 372.5M472.9 390.2L458.4 378.4M550.9 473L535.9 461.8M541.8 454.1A393 393 0 0 0 530.2 469.6M541.8 454.1L453.6 384.3M530.2 469.6L514.9 458.7M521.5 449.8A411.8 411.8 0 0 0 508.6 467.7M521.5 449.8L461.6 404.6M463.8 401.7A486.8 486.8 0 0 0 459.4 407.5M463.8 401.7L449 390.3M459.4 407.5L444.4 396.3M508.6 467.7L493.1 457.3M498.9 448.9A430.5 430.5 0 0 0 487.5 465.7M498.9 448.9L453 416.4M455.1 413.4A486.8 486.8 0 0 0 450.9 419.4M455.1 413.4L439.9 402.5M450.9 419.4L435.5 408.7M487.5 465.7L471.8 455.6M475.9 449.2A449.2 449.2 0 0 0 467.7 462M475.9 449.2L444.7 428.5M446.7 425.4A486.8 486.8 0 0 0 442.7 431.5M446.7 425.4L431.2 414.9M442.7 431.5L427 421.3M467.7 462L451.8 452.2M454.6 447.7A468 468 0 0 0 449 456.7M454.6 447.7L422.9 427.6M449 456.7L433 447M434.8 443.9A486.8 486.8 0 0 0 431.1 450.2M434.8 443.9L418.9 434.1M431.1 450.2L414.9 440.6M814.3 689.3L796.1 684.9M801.5 671A55.5 55.5 0 0 0 794.5 699.7M801.5 671L441.1 470.4M443.7 465.8A468 468 0 0 0 438.5 475M443.7 465.8L411.1 447.2M438.5 475L422.1 466.1M423.8 462.9A486.8 486.8 0 0 0 420.3 469.3M423.8 462.9L407.4 453.8M420.3 469.3L403.8 460.5M794.5 699.7L775.8 700.3M780.5 671.8A74.2 74.2 0 0 0 782.3 728.4M780.5 671.8L499.7 566.2M512.5 536.2A374.2 374.2 0 0 0 489.6 597.1M512.5 536.2L495.6 528.1M500.3 518.6A393 393 0 0 0 491.2 537.7M500.3 518.6L400.3 467.2M491.2 537.7L474.1 530.1M479.5 518.3A411.8 411.8 0 0 0 469 542M479.5 518.3L412 485.6M413.6 482.3A486.8 486.8 0 0 0 410.5 488.9M413.6 482.3L396.8 474M410.5 488.9L393.5 480.8M469 542L451.6 534.9M456.5 523.3A430.5 430.5 0 0 0 447 546.5M456.5 523.3L422.2 508.1M424.4 503.3A468 468 0 0 0 420.1 513M424.4 503.3L390.3 487.7M420.1 513L402.9 505.5M404.4 502.2A486.8 486.8 0 0 0 401.5 508.9M404.4 502.2L387.2 494.7M401.5 508.9L384.2 501.6M447 546.5L429.5 539.9M432.2 532.9A449.2 449.2 0 0 0 426.9 547.1M432.2 532.9L397.3 519.1M398.7 515.7A486.8 486.8 0 0 0 396 522.5M398.7 515.7L381.3 508.7M396 522.5L378.5 515.7M426.9 547.1L409.2 540.8M411 535.8A468 468 0 0 0 407.5 545.8M411 535.8L375.8 522.8M407.5 545.8L389.7 539.7M390.9 536.2A486.8 486.8 0 0 0 388.5 543.1M390.9 536.2L373.2 530M388.5 543.1L370.8 537.2M489.6 597.1L471.5 592.1M474.7 581.4A393 393 0 0 0 468.7 602.9M474.7 581.4L385.2 553.6M386.3 550.1A486.8 486.8 0 0 0 384.1 557.1M386.3 550.1L368.4 544.4M384.1 557.1L366.2 551.6M468.7 602.9L450.5 598.4M454.1 584.7A411.8 411.8 0 0 0 447.3 612.1M454.1 584.7L364 558.9M447.3 612.1L429 608.2M432 595.2A430.5 430.5 0 0 0 426.4 621.3M432 595.2L395.5 586.2M397.3 579.4A468 468 0 0 0 393.9 593.1M397.3 579.4L379.1 574.7M380.1 571.1A486.8 486.8 0 0 0 378.2 578.2M380.1 571.1L362 566.2M378.2 578.2L360 573.6M393.9 593.1L375.6 588.9M376.5 585.3A486.8 486.8 0 0 0 374.8 592.4M376.5 585.3L358.2 581M374.8 592.4L356.5 588.4M426.4 621.3L407.9 617.9M409.4 610.5A449.2 449.2 0 0 0 406.6 625.4M409.4 610.5L372.6 603.2M373.3 599.6A486.8 486.8 0 0 0 371.9 606.8M373.3 599.6L354.9 595.8M371.9 606.8L353.5 603.3M406.6 625.4L388.1 622.4M389 617.2A468 468 0 0 0 387.3 627.6M389 617.2L352.1 610.7M387.3 627.6L368.8 624.8M369.3 621.2A486.8 486.8 0 0 0 368.2 628.4M369.3 621.2L350.8 618.2M368.2 628.4L349.7 625.7M782.3 728.4L765.1 736.1M757.1 694A93 93 0 0 0 791.2 770.1M757.1 694L588.5 686.6M590 667.4A261.8 261.8 0 0 0 588.4 706M590 667.4L385.2 643.3M385.9 638.1A468 468 0 0 0 384.6 648.5M385.9 638.1L348.7 633.3M384.6 648.5L366 646.6M366.4 642.9A486.8 486.8 0 0 0 365.6 650.2M366.4 642.9L347.7 640.8M365.6 650.2L346.9 648.4M588.4 706L569.6 706.5M570.3 676.8A280.5 280.5 0 0 0 572.1 736.2M570.3 676.8L364.6 661.1M364.9 657.5A486.8 486.8 0 0 0 364.4 664.8M364.9 657.5L346.3 655.9M364.4 664.8L345.7 663.5M572.1 736.2L553.5 738.7M550.8 693.7A299.2 299.2 0 0 0 563 782.8M550.8 693.7L438.3 692.1M438.7 679.2A411.8 411.8 0 0 0 438.3 705.1M438.7 679.2L363.8 675.7M363.9 672.1A486.8 486.8 0 0 0 363.6 679.4M363.9 672.1L345.2 671.1M363.6 679.4L344.9 678.7M438.3 705.1L419.6 705.4M419.5 692.9A430.5 430.5 0 0 0 420 717.9M419.5 692.9L382 692.4M382.1 687.1A468 468 0 0 0 382 697.7M382.1 687.1L344.6 686.3M382 697.7L363.3 697.7M363.3 694A486.8 486.8 0 0 0 363.3 701.3M363.3 694L344.5 693.9M363.3 701.3L344.5 701.5M420 717.9L401.2 718.8M400.9 711.2A449.2 449.2 0 0 0 401.6 726.4M400.9 711.2L363.5 712.3M363.4 708.7A486.8 486.8 0 0 0 363.6 716M363.4 708.7L344.6 709.1M363.6 716L344.8 716.7M401.6 726.4L382.9 727.6M382.6 722.3A468 468 0 0 0 383.3 732.8M382.6 722.3L345.2 724.2M383.3 732.8L364.6 734.2M364.3 730.6A486.8 486.8 0 0 0 364.9 737.9M364.3 730.6L345.6 731.8M364.9 737.9L346.2 739.4M563 782.8L545 788.1M534.8 740.2A318 318 0 0 0 562.5 834M534.8 740.2L460.5 750.1M459.1 739A393 393 0 0 0 462.1 761.1M459.1 739L365.9 748.8M365.5 745.2A486.8 486.8 0 0 0 366.3 752.4M365.5 745.2L346.9 747M366.3 752.4L347.7 754.5M462.1 761.1L443.6 764.2M442 753.3A411.8 411.8 0 0 0 445.5 775M442 753.3L367.7 763.3M367.2 759.7A486.8 486.8 0 0 0 368.2 766.9M367.2 759.7L348.6 762.1M368.2 766.9L349.6 769.6M445.5 775L427.1 778.5M425.3 768.6A430.5 430.5 0 0 0 429.1 788.4M425.3 768.6L369.8 777.8M369.2 774.2A486.8 486.8 0 0 0 370.4 781.4M369.2 774.2L350.7 777.1M370.4 781.4L352 784.6M429.1 788.4L410.8 792.4M409.2 784.9A449.2 449.2 0 0 0 412.4 799.8M409.2 784.9L372.5 792.2M371.8 788.6A486.8 486.8 0 0 0 373.2 795.8M371.8 788.6L353.3 792.1M373.2 795.8L354.8 799.5M412.4 799.8L394.2 804M393 798.9A468 468 0 0 0 395.4 809.2M393 798.9L356.4 807M395.4 809.2L377.2 813.6M376.3 810.1A486.8 486.8 0 0 0 378.1 817.2M376.3 810.1L358.1 814.4M378.1 817.2L359.9 821.8M562.5 834L545.6 842M528.7 798.8A336.8 336.8 0 0 0 568.3 882.5M528.7 798.8L510.8 804.4M507.7 794.1A355.5 355.5 0 0 0 514.2 814.6M507.7 794.1L399.4 824.5M398 819.4A468 468 0 0 0 400.9 829.5M398 819.4L361.8 829.1M400.9 829.5L382.9 834.8M381.9 831.3A486.8 486.8 0 0 0 383.9 838.3M381.9 831.3L363.8 836.4M383.9 838.3L366 843.7M514.2 814.6L496.4 820.7M493.3 811.3A374.2 374.2 0 0 0 499.8 830.1M493.3 811.3L368.2 851M499.8 830.1L482.3 836.7M478.7 826.7A393 393 0 0 0 486.2 846.6M478.7 826.7L407.8 851.3M406.1 846.3A468 468 0 0 0 409.6 856.3M406.1 846.3L370.6 858.2M409.6 856.3L391.9 862.6M390.7 859.2A486.8 486.8 0 0 0 393.2 866.1M390.7 859.2L373 865.4M393.2 866.1L375.6 872.5M486.2 846.6L468.8 853.7M465.8 846A411.8 411.8 0 0 0 472 861.4M465.8 846L378.3 879.7M472 861.4L454.8 868.8M451.8 861.7A430.5 430.5 0 0 0 457.9 875.8M451.8 861.7L399.8 883.1M398.4 879.7A486.8 486.8 0 0 0 401.2 886.5M398.4 879.7L381.1 886.7M401.2 886.5L383.9 893.8M457.9 875.8L440.9 883.6M438.5 878.2A449.2 449.2 0 0 0 443.3 888.9M438.5 878.2L386.9 900.7M443.3 888.9L426.4 896.9M424.2 892.1A468 468 0 0 0 428.6 901.7M424.2 892.1L390 907.7M428.6 901.7L411.8 909.8M410.2 906.5A486.8 486.8 0 0 0 413.4 913.1M410.2 906.5L393.2 914.6M413.4 913.1L396.5 921.4M568.3 882.5L521.2 913.3M509.3 893.8A393 393 0 0 0 534.3 932.1M509.3 893.8L476.8 912.5M469.3 899.1A430.5 430.5 0 0 0 484.7 925.7M469.3 899.1L452.8 907.8M450 902.6A449.2 449.2 0 0 0 455.6 913M450 902.6L400 928.2M455.6 913L439.1 922M436.6 917.4A468 468 0 0 0 441.6 926.6M436.6 917.4L403.5 934.9M441.6 926.6L425.3 935.8M423.5 932.6A486.8 486.8 0 0 0 427.1 939M423.5 932.6L407.1 941.6M427.1 939L410.8 948.2M484.7 925.7L468.7 935.6M464.8 929.1A449.2 449.2 0 0 0 472.8 942M464.8 929.1L432.6 948.4M430.7 945.3A486.8 486.8 0 0 0 434.5 951.6M430.7 945.3L414.6 954.8M434.5 951.6L418.5 961.3M472.8 942L457.1 952.2M454.2 947.8A468 468 0 0 0 460 956.6M454.2 947.8L422.5 967.8M460 956.6L444.3 967M442.3 963.9A486.8 486.8 0 0 0 446.4 970M442.3 963.9L426.6 974.2M446.4 970L430.8 980.5M534.3 932.1L519.3 943.3M513.8 935.8A411.8 411.8 0 0 0 524.9 950.7M513.8 935.8L452.6 979.1M450.5 976.1A486.8 486.8 0 0 0 454.7 982M450.5 976.1L435.1 986.8M454.7 982L439.5 993M524.9 950.7L510.1 962.2M504.2 954.4A430.5 430.5 0 0 0 516.1 969.8M504.2 954.4L444 999.1M516.1 969.8L501.6 981.6M495.3 973.7A449.2 449.2 0 0 0 508.1 989.4M495.3 973.7L465.7 996.7M463.4 993.8A486.8 486.8 0 0 0 467.9 999.6M463.4 993.8L448.5 1005.2M467.9 999.6L453.2 1011.2M508.1 989.4L493.8 1001.6M489.3 996.2A468 468 0 0 0 498.4 1006.9M489.3 996.2L474.8 1008.1M472.5 1005.3A486.8 486.8 0 0 0 477.2 1010.9M472.5 1005.3L458 1017.1M477.2 1010.9L462.8 1023M498.4 1006.9L484.3 1019.2M481.9 1016.5A486.8 486.8 0 0 0 486.7 1022M481.9 1016.5L467.7 1028.8M486.7 1022L472.7 1034.5M791.2 770.1L779.4 784.6M770.1 776.1A111.8 111.8 0 0 0 789.5 791.9M770.1 776.1L542.2 999M535.3 991.7A430.5 430.5 0 0 0 549.4 1006.2M535.3 991.7L494.1 1030.1M491.7 1027.4A486.8 486.8 0 0 0 496.6 1032.8M491.7 1027.4L477.8 1040.1M496.6 1032.8L483 1045.7M549.4 1006.2L536.3 1019.6M530.9 1014.2A449.2 449.2 0 0 0 541.8 1024.9M530.9 1014.2L504.3 1040.6M501.7 1038A486.8 486.8 0 0 0 506.9 1043.2M501.7 1038L488.3 1051.1M506.9 1043.2L493.6 1056.5M541.8 1024.9L528.9 1038.5M525.1 1034.9A468 468 0 0 0 532.8 1042.1M525.1 1034.9L499.1 1061.8M532.8 1042.1L520.1 1055.9M517.4 1053.4A486.8 486.8 0 0 0 522.8 1058.3M517.4 1053.4L504.6 1067.1M522.8 1058.3L510.2 1072.2M789.5 791.9L779.3 807.7M764.5 796.6A130.5 130.5 0 0 0 795.6 816.6M764.5 796.6L531 1065.6M528.2 1063.2A486.8 486.8 0 0 0 533.8 1068M528.2 1063.2L515.8 1077.3M533.8 1068L521.6 1082.3M795.6 816.6L787.8 833.7M754.7 812.9A149.2 149.2 0 0 0 825.2 845.2M754.7 812.9L527.4 1087.2M825.2 845.2L822 863.7M753 835.2A168 168 0 0 0 896.6 859.4M753 835.2L655.6 973M641 962A336.8 336.8 0 0 0 670.8 983.1M641 962L547.9 1079.6M545 1077.4A486.8 486.8 0 0 0 550.8 1081.9M545 1077.4L533.3 1092M550.8 1081.9L539.2 1096.7M670.8 983.1L660.8 999M642.9 987A355.5 355.5 0 0 0 679.4 1009.9M642.9 987L599.3 1047.9M593.1 1043.4A430.5 430.5 0 0 0 605.5 1052.4M593.1 1043.4L559.5 1088.5M556.6 1086.4A486.8 486.8 0 0 0 562.4 1090.7M556.6 1086.4L545.3 1101.3M562.4 1090.7L551.3 1105.8M605.5 1052.4L594.9 1067.8M590.1 1064.4A449.2 449.2 0 0 0 599.8 1071.1M590.1 1064.4L557.5 1110.3M599.8 1071.1L589.3 1086.7M585 1083.7A468 468 0 0 0 593.7 1089.6M585 1083.7L563.7 1114.6M593.7 1089.6L583.5 1105.3M580.4 1103.3A486.8 486.8 0 0 0 586.5 1107.3M580.4 1103.3L570 1118.9M586.5 1107.3L576.4 1123.1M679.4 1009.9L670.4 1026.3M656.7 1018.5A374.2 374.2 0 0 0 684.4 1033.6M656.7 1018.5L627.6 1066.6M622.5 1063.4A430.5 430.5 0 0 0 632.8 1069.7M622.5 1063.4L582.8 1127.1M632.8 1069.7L623.4 1085.9M618.3 1082.9A449.2 449.2 0 0 0 628.5 1088.9M618.3 1082.9L589.3 1131.1M628.5 1088.9L619.3 1105.2M614.7 1102.5A468 468 0 0 0 623.9 1107.7M614.7 1102.5L595.8 1135M623.9 1107.7L614.8 1124.2M611.6 1122.4A486.8 486.8 0 0 0 618 1125.9M611.6 1122.4L602.4 1138.7M618 1125.9L609.1 1142.4M684.4 1033.6L676.1 1050.4M667.9 1046.3A393 393 0 0 0 684.3 1054.4M667.9 1046.3L615.8 1146M684.3 1054.4L676.4 1071.4M667.5 1067.1A411.8 411.8 0 0 0 685.4 1075.4M667.5 1067.1L634.3 1134.3M631 1132.7A486.8 486.8 0 0 0 637.5 1135.9M631 1132.7L622.5 1149.4M637.5 1135.9L629.4 1152.8M685.4 1075.4L677.9 1092.6M670.9 1089.5A430.5 430.5 0 0 0 685 1095.6M670.9 1089.5L647.5 1140.6M644.1 1139.1A486.8 486.8 0 0 0 650.8 1142.1M644.1 1139.1L636.2 1156.1M650.8 1142.1L643.1 1159.2M685 1095.6L677.8 1112.9M672.3 1110.6A449.2 449.2 0 0 0 683.2 1115.2M672.3 1110.6L650.1 1162.3M683.2 1115.2L676.3 1132.6M671.4 1130.6A468 468 0 0 0 681.2 1134.5M671.4 1130.6L657.1 1165.2M681.2 1134.5L674.4 1152M671 1150.6A486.8 486.8 0 0 0 677.8 1153.3M671 1150.6L664.1 1168.1M677.8 1153.3L671.2 1170.8M896.6 859.4L901.8 877.4M792.9 875.8A186.8 186.8 0 0 0 993.1 818M792.9 875.8L752.8 1000.8M742 997.1A318 318 0 0 0 763.7 1004.1M742 997.1L678.3 1173.5M763.7 1004.1L758.6 1022.1M742.8 1017.2A336.8 336.8 0 0 0 774.6 1026.2M742.8 1017.2L695.1 1159.4M691.6 1158.3A486.8 486.8 0 0 0 698.5 1160.6M691.6 1158.3L685.5 1176M698.5 1160.6L692.7 1178.4M774.6 1026.2L770.4 1044.5M753.1 1040A355.5 355.5 0 0 0 787.9 1048M753.1 1040L732.7 1112.2M725.3 1110A430.5 430.5 0 0 0 740.1 1114.2M725.3 1110L709 1163.9M705.5 1162.8A486.8 486.8 0 0 0 712.5 1164.9M705.5 1162.8L699.9 1180.7M712.5 1164.9L707.2 1182.9M740.1 1114.2L735.3 1132.4M729.6 1130.8A449.2 449.2 0 0 0 741 1133.8M729.6 1130.8L714.5 1185M741 1133.8L736.5 1152M731.4 1150.7A468 468 0 0 0 741.6 1153.3M731.4 1150.7L721.9 1187M741.6 1153.3L737.3 1171.5M733.7 1170.7A486.8 486.8 0 0 0 740.8 1172.3M733.7 1170.7L729.2 1188.9M740.8 1172.3L736.6 1190.6M787.9 1048L784.6 1066.5M775.7 1064.8A374.2 374.2 0 0 0 793.6 1068M775.7 1064.8L757.1 1156.7M751.9 1155.6A468 468 0 0 0 762.2 1157.7M751.9 1155.6L744 1192.3M762.2 1157.7L758.7 1176.1M755.1 1175.4A486.8 486.8 0 0 0 762.3 1176.8M755.1 1175.4L751.5 1193.8M762.3 1176.8L758.9 1195.2M793.6 1068L790.8 1086.5M785 1085.6A393 393 0 0 0 796.5 1087.3M785 1085.6L766.4 1196.5M796.5 1087.3L794 1105.9M788 1105.1A411.8 411.8 0 0 0 799.9 1106.7M788 1105.1L773.9 1197.7M799.9 1106.7L797.6 1125.3M791.6 1124.5A430.5 430.5 0 0 0 803.7 1126M791.6 1124.5L781.4 1198.8M803.7 1126L801.6 1144.6M795.8 1144A449.2 449.2 0 0 0 807.5 1145.2M795.8 1144L789 1199.8M807.5 1145.2L805.7 1163.9M800.5 1163.4A468 468 0 0 0 811 1164.4M800.5 1163.4L796.5 1200.7M811 1164.4L809.4 1183.1M805.8 1182.7A486.8 486.8 0 0 0 813.1 1183.3M805.8 1182.7L804.1 1201.4M813.1 1183.3L811.7 1202M993.1 818L1007.4 830.1M886.6 900.2A205.5 205.5 0 0 0 1055.5 698.8M886.6 900.2L893.2 937.1M845.5 941A243 243 0 0 0 939.3 924M845.5 941L844.4 997.2M834 996.8A299.2 299.2 0 0 0 854.9 997.2M834 996.8L824 1184.1M820.4 1183.8A486.8 486.8 0 0 0 827.7 1184.2M820.4 1183.8L819.2 1202.6M827.7 1184.2L826.8 1203M854.9 997.2L855.2 1016M842.6 1015.9A318 318 0 0 0 867.8 1015.5M842.6 1015.9L838.6 1184.6M835 1184.5A486.8 486.8 0 0 0 842.3 1184.7M835 1184.5L834.4 1203.3M842.3 1184.7L842 1203.4M867.8 1015.5L868.8 1034.2M854.2 1034.7A336.8 336.8 0 0 0 883.4 1033.1M854.2 1034.7L855.6 1147.2M849.7 1147.2A449.2 449.2 0 0 0 861.5 1147.1M849.7 1147.2L849.6 1203.5M861.5 1147.1L861.9 1165.8M856.7 1166A468 468 0 0 0 867.2 1165.7M856.7 1166L857.2 1203.4M867.2 1165.7L867.9 1184.4M864.3 1184.5A486.8 486.8 0 0 0 871.6 1184.3M864.3 1184.5L864.8 1203.3M871.6 1184.3L872.4 1203M883.4 1033.1L885.3 1051.7M871.1 1052.9A355.5 355.5 0 0 0 899.4 1050.1M871.1 1052.9L880 1202.6M899.4 1050.1L902 1068.6M882.7 1070.8A374.2 374.2 0 0 0 921.1 1065.4M882.7 1070.8L889.3 1145.5M883.4 1146A449.2 449.2 0 0 0 895.2 1145M883.4 1146L887.6 1202.1M895.2 1145L897 1163.6M891.8 1164.1A468 468 0 0 0 902.3 1163.1M891.8 1164.1L895.1 1201.5M902.3 1163.1L904.4 1181.7M900.7 1182.1A486.8 486.8 0 0 0 908 1181.3M900.7 1182.1L902.7 1200.7M908 1181.3L910.2 1199.9M921.1 1065.4L924.6 1083.8M907.1 1086.8A393 393 0 0 0 942.1 1080.1M907.1 1086.8L918 1161M912.8 1161.8A468 468 0 0 0 923.2 1160.2M912.8 1161.8L917.8 1198.9M923.2 1160.2L926.1 1178.8M922.5 1179.3A486.8 486.8 0 0 0 929.7 1178.2M922.5 1179.3L925.3 1197.9M929.7 1178.2L932.8 1196.7M942.1 1080.1L946.4 1098.3M929.2 1102.1A411.8 411.8 0 0 0 963.5 1093.8M929.2 1102.1L932.9 1120.5M926.9 1121.6A430.5 430.5 0 0 0 938.8 1119.2M926.9 1121.6L940.3 1195.4M938.8 1119.2L942.7 1137.6M936.9 1138.8A449.2 449.2 0 0 0 948.4 1136.3M936.9 1138.8L947.8 1194M948.4 1136.3L952.6 1154.6M947.4 1155.8A468 468 0 0 0 957.7 1153.4M947.4 1155.8L955.2 1192.4M957.7 1153.4L962 1171.7M958.4 1172.5A486.8 486.8 0 0 0 965.6 1170.8M958.4 1172.5L962.6 1190.8M965.6 1170.8L970 1189M963.5 1093.8L973.8 1129.9M966.5 1131.9A449.2 449.2 0 0 0 981.1 1127.7M966.5 1131.9L976.2 1168.1M972.7 1169A486.8 486.8 0 0 0 979.7 1167.1M972.7 1169L977.4 1187.2M979.7 1167.1L984.7 1185.2M981.1 1127.7L986.5 1145.6M981.5 1147.1A468 468 0 0 0 991.6 1144.1M981.5 1147.1L992 1183.1M991.6 1144.1L997.3 1161.9M993.8 1163A486.8 486.8 0 0 0 1000.7 1160.8M993.8 1163L999.3 1180.9M1000.7 1160.8L1006.5 1178.6M939.3 924L946.2 941.4M934.8 945.6A261.8 261.8 0 0 0 957.4 936.7M934.8 945.6L1013.8 1176.2M957.4 936.7L965.1 953.8M944.8 962A280.5 280.5 0 0 0 984.6 944.1M944.8 962L1020.9 1173.7M984.6 944.1L993.6 960.5M963.8 974.8A299.2 299.2 0 0 0 1021.7 943.1M963.8 974.8L1020.8 1113.5M1011.4 1117.3A449.2 449.2 0 0 0 1030.1 1109.6M1011.4 1117.3L1024.9 1152.3M1021.4 1153.6A486.8 486.8 0 0 0 1028.3 1150.9M1021.4 1153.6L1028.1 1171.1M1028.3 1150.9L1035.1 1168.4M1030.1 1109.6L1037.6 1126.7M1031.2 1129.5A468 468 0 0 0 1044.1 1123.9M1031.2 1129.5L1038.4 1146.8M1035.1 1148.2A486.8 486.8 0 0 0 1041.8 1145.4M1035.1 1148.2L1042.2 1165.5M1041.8 1145.4L1049.2 1162.6M1044.1 1123.9L1051.8 1140.9M1048.5 1142.4A486.8 486.8 0 0 0 1055.2 1139.4M1048.5 1142.4L1056.2 1159.6M1055.2 1139.4L1063.1 1156.4M1021.7 943.1L1032.4 958.5M997.4 979.8A318 318 0 0 0 1064.4 932.8M997.4 979.8L1023.5 1029.6M1015.4 1033.7A374.2 374.2 0 0 0 1031.5 1025.3M1015.4 1033.7L1065.1 1134.7M1061.8 1136.3A486.8 486.8 0 0 0 1068.3 1133M1061.8 1136.3L1069.9 1153.1M1068.3 1133L1076.8 1149.8M1031.5 1025.3L1040.6 1041.7M1034.2 1045.2A393 393 0 0 0 1046.9 1038.1M1034.2 1045.2L1078.1 1128M1074.9 1129.7A486.8 486.8 0 0 0 1081.3 1126.3M1074.9 1129.7L1083.5 1146.3M1081.3 1126.3L1090.2 1142.8M1046.9 1038.1L1056.3 1054.3M1051.1 1057.3A411.8 411.8 0 0 0 1061.5 1051.3M1051.1 1057.3L1096.9 1139.1M1061.5 1051.3L1071.1 1067.4M1065.9 1070.5A430.5 430.5 0 0 0 1076.3 1064.2M1065.9 1070.5L1103.5 1135.3M1076.3 1064.2L1086.1 1080.2M1081.1 1083.3A449.2 449.2 0 0 0 1091.2 1077M1081.1 1083.3L1110 1131.5M1091.2 1077L1101.2 1092.9M1096.7 1095.7A468 468 0 0 0 1105.7 1090M1096.7 1095.7L1116.5 1127.5M1105.7 1090L1115.9 1105.7M1112.8 1107.7A486.8 486.8 0 0 0 1118.9 1103.7M1112.8 1107.7L1122.9 1123.5M1118.9 1103.7L1129.3 1119.3M1064.4 932.8L1077.1 946.7M1049.7 969.1A336.8 336.8 0 0 0 1101.9 921.5M1049.7 969.1L1083.1 1014.4M1074.5 1020.6A393 393 0 0 0 1091.6 1008M1074.5 1020.6L1128 1097.5M1125 1099.6A486.8 486.8 0 0 0 1131 1095.4M1125 1099.6L1135.6 1115.1M1131 1095.4L1141.8 1110.7M1091.6 1008L1103.1 1022.8M1095.2 1028.8A411.8 411.8 0 0 0 1110.8 1016.6M1095.2 1028.8L1139.9 1089M1137 1091.2A486.8 486.8 0 0 0 1142.8 1086.8M1137 1091.2L1148 1106.3M1142.8 1086.8L1154.1 1101.8M1110.8 1016.6L1122.7 1031.1M1116.7 1035.9A430.5 430.5 0 0 0 1128.6 1026.2M1116.7 1035.9L1151.5 1080.1M1148.7 1082.4A486.8 486.8 0 0 0 1154.4 1077.8M1148.7 1082.4L1160.2 1097.2M1154.4 1077.8L1166.1 1092.5M1128.6 1026.2L1140.7 1040.5M1136.2 1044.3A449.2 449.2 0 0 0 1145.2 1036.7M1136.2 1044.3L1172 1087.7M1145.2 1036.7L1157.5 1050.8M1153.5 1054.2A468 468 0 0 0 1161.5 1047.3M1153.5 1054.2L1177.8 1082.8M1161.5 1047.3L1173.9 1061.3M1171.2 1063.7A486.8 486.8 0 0 0 1176.7 1058.9M1171.2 1063.7L1183.6 1077.8M1176.7 1058.9L1189.2 1072.8M1101.9 921.5L1115.9 934M1101.2 949.6A355.5 355.5 0 0 0 1129.6 917.5M1101.2 949.6L1154.2 1002.7M1146 1010.6A430.5 430.5 0 0 0 1162.1 994.6M1146 1010.6L1184.7 1051.4M1182.1 1053.9A486.8 486.8 0 0 0 1187.4 1048.9M1182.1 1053.9L1194.8 1067.6M1187.4 1048.9L1200.4 1062.4M1162.1 994.6L1175.7 1007.5M1168.6 1014.7A449.2 449.2 0 0 0 1182.5 1000.1M1168.6 1014.7L1195.2 1041.2M1192.6 1043.8A486.8 486.8 0 0 0 1197.8 1038.6M1192.6 1043.8L1205.8 1057.1M1197.8 1038.6L1211.2 1051.7M1182.5 1000.1L1196.4 1012.7M1191.7 1017.8A468 468 0 0 0 1201.1 1007.4M1191.7 1017.8L1205.3 1030.6M1202.8 1033.3A486.8 486.8 0 0 0 1207.8 1028M1202.8 1033.3L1216.4 1046.2M1207.8 1028L1221.6 1040.7M1201.1 1007.4L1215.2 1019.8M1212.8 1022.6A486.8 486.8 0 0 0 1217.6 1017.1M1212.8 1022.6L1226.7 1035.1M1217.6 1017.1L1231.8 1029.4M1129.6 917.5L1144.4 929.1M1138.1 936.9A374.2 374.2 0 0 0 1150.5 921.1M1138.1 936.9L1224.7 1008.7M1222.3 1011.5A486.8 486.8 0 0 0 1227 1005.9M1222.3 1011.5L1236.7 1023.6M1227 1005.9L1241.5 1017.7M1150.5 921.1L1165.5 932.3M1158.1 942A393 393 0 0 0 1172.6 922.4M1158.1 942L1246.3 1011.8M1172.6 922.4L1188 933.1M1179.4 945A411.8 411.8 0 0 0 1196.2 920.9M1179.4 945L1224.4 978.8M1221.2 983A468 468 0 0 0 1227.6 974.5M1221.2 983L1251 1005.8M1227.6 974.5L1242.7 985.6M1240.5 988.6A486.8 486.8 0 0 0 1244.8 982.7M1240.5 988.6L1255.6 999.8M1244.8 982.7L1260 993.6M1196.2 920.9L1212 931.1M1205.7 940.5A430.5 430.5 0 0 0 1218 921.5M1205.7 940.5L1236.7 961.6M1233.7 966A468 468 0 0 0 1239.6 957.2M1233.7 966L1264.4 987.4M1239.6 957.2L1255.2 967.6M1253.2 970.7A486.8 486.8 0 0 0 1257.3 964.6M1253.2 970.7L1268.7 981.2M1257.3 964.6L1273 974.8M1218 921.5L1234 931.2M1229.5 938.4A449.2 449.2 0 0 0 1238.3 923.9M1229.5 938.4L1277.1 968.5M1238.3 923.9L1254.5 933.4M1250.9 939.4A468 468 0 0 0 1258 927.3M1250.9 939.4L1267 949.1M1265.1 952.2A486.8 486.8 0 0 0 1268.9 945.9M1265.1 952.2L1281.1 962M1268.9 945.9L1285 955.5M1258 927.3L1274.3 936.4M1272.5 939.6A486.8 486.8 0 0 0 1276.1 933.2M1272.5 939.6L1288.8 948.9M1276.1 933.2L1292.5 942.3M1055.5 698.8L1074.2 698.9M1061.8 771.7A224.2 224.2 0 0 0 1062.4 626M1061.8 771.7L1150.4 802.5M1136.7 835.5A318 318 0 0 0 1160.2 768.1M1136.7 835.5L1187.4 859.9M1181.6 871.4A374.2 374.2 0 0 0 1192.8 848.1M1181.6 871.4L1281.3 923.6M1279.6 926.8A486.8 486.8 0 0 0 1283 920.3M1279.6 926.8L1296.2 935.6M1283 920.3L1299.7 928.9M1192.8 848.1L1210 855.6M1204.5 867.6A393 393 0 0 0 1215.1 843.4M1204.5 867.6L1255.3 891.9M1252.7 897.2A449.2 449.2 0 0 0 1257.8 886.5M1252.7 897.2L1303.1 922.1M1257.8 886.5L1274.8 894.4M1272.6 899.2A468 468 0 0 0 1277 889.6M1272.6 899.2L1306.4 915.3M1277 889.6L1294.1 897.3M1292.6 900.6A486.8 486.8 0 0 0 1295.6 893.9M1292.6 900.6L1309.6 908.4M1295.6 893.9L1312.7 901.5M1215.1 843.4L1232.5 850.3M1229.4 858A411.8 411.8 0 0 0 1235.5 842.6M1229.4 858L1315.8 894.5M1235.5 842.6L1253.1 849.2M1250.3 856.3A430.5 430.5 0 0 0 1255.7 842M1250.3 856.3L1302.6 877M1301.3 880.4A486.8 486.8 0 0 0 1304 873.6M1301.3 880.4L1318.7 887.5M1304 873.6L1321.4 880.4M1255.7 842L1273.4 848.2M1271.4 853.8A449.2 449.2 0 0 0 1275.3 842.6M1271.4 853.8L1324.1 873.3M1275.3 842.6L1293.1 848.7M1291.4 853.7A468 468 0 0 0 1294.7 843.7M1291.4 853.7L1326.7 866.1M1294.7 843.7L1312.6 849.5M1311.4 853A486.8 486.8 0 0 0 1313.7 846M1311.4 853L1329.2 859M1313.7 846L1331.6 851.7M1160.2 768.1L1178.5 772.2M1173 793.2A336.8 336.8 0 0 0 1182.6 750.9M1173 793.2L1316.9 835.5M1315.9 839A486.8 486.8 0 0 0 1317.9 832M1315.9 839L1333.8 844.5M1317.9 832L1336 837.2M1182.6 750.9L1201.1 753.9M1193.9 788.2A355.5 355.5 0 0 0 1204.9 719.1M1193.9 788.2L1320.8 821.4M1319.9 825A486.8 486.8 0 0 0 1321.8 817.9M1319.9 825L1338 829.9M1321.8 817.9L1339.9 822.5M1204.9 719.1L1223.6 720.2M1218.8 761.7A374.2 374.2 0 0 0 1223.7 678.4M1218.8 761.7L1255.7 768M1252.6 784.4A411.8 411.8 0 0 0 1258.2 751.6M1252.6 784.4L1307.6 796.2M1306.1 803A468 468 0 0 0 1309 789.3M1306.1 803L1324.3 807.2M1323.5 810.8A486.8 486.8 0 0 0 1325.1 803.7M1323.5 810.8L1341.7 815.1M1325.1 803.7L1343.4 807.7M1309 789.3L1327.4 792.9M1326.7 796.5A486.8 486.8 0 0 0 1328.1 789.3M1326.7 796.5L1345 800.3M1328.1 789.3L1346.5 792.9M1258.2 751.6L1276.8 754M1274.8 767.6A430.5 430.5 0 0 0 1278.4 740.4M1274.8 767.6L1311.8 773.7M1311 778.9A468 468 0 0 0 1312.7 768.5M1311 778.9L1347.9 785.4M1312.7 768.5L1331.2 771.3M1330.6 774.9A486.8 486.8 0 0 0 1331.7 767.7M1330.6 774.9L1349.1 777.9M1331.7 767.7L1350.3 770.4M1278.4 740.4L1297.1 742.2M1296 752.3A449.2 449.2 0 0 0 1298 732.1M1296 752.3L1333.2 756.8M1332.7 760.4A486.8 486.8 0 0 0 1333.6 753.2M1332.7 760.4L1351.3 762.9M1333.6 753.2L1352.2 755.3M1298 732.1L1316.6 733.6M1316.1 740.6A468 468 0 0 0 1317.1 726.5M1316.1 740.6L1334.7 742.3M1334.4 745.9A486.8 486.8 0 0 0 1335.1 738.6M1334.4 745.9L1353 747.8M1335.1 738.6L1353.7 740.2M1317.1 726.5L1335.8 727.7M1335.6 731.3A486.8 486.8 0 0 0 1336.1 724M1335.6 731.3L1354.3 732.6M1336.1 724L1354.8 725M1223.7 678.4L1242.5 677.4M1243 700.9A393 393 0 0 0 1240.5 654M1243 700.9L1280.5 701.2M1280.3 711.3A430.5 430.5 0 0 0 1280.4 691.1M1280.3 711.3L1336.5 713.1M1336.4 716.7A486.8 486.8 0 0 0 1336.6 709.4M1336.4 716.7L1355.1 717.4M1336.6 709.4L1355.4 709.8M1280.4 691.1L1299.2 690.8M1299.2 698.4A449.2 449.2 0 0 0 1299 683.2M1299.2 698.4L1336.7 698.4M1336.7 702.1A486.8 486.8 0 0 0 1336.7 694.8M1336.7 702.1L1355.5 702.3M1336.7 694.8L1355.5 694.7M1299 683.2L1317.7 682.6M1317.9 687.9A468 468 0 0 0 1317.5 677.3M1317.9 687.9L1355.4 687.1M1317.5 677.3L1336.3 676.5M1336.4 680.1A486.8 486.8 0 0 0 1336.1 672.8M1336.4 680.1L1355.2 679.5M1336.1 672.8L1354.8 671.9M1240.5 654L1259.2 651.9M1260.5 665.9A411.8 411.8 0 0 0 1257.3 637.9M1260.5 665.9L1316.6 661.5M1317 666.8A468 468 0 0 0 1316.1 656.3M1317 666.8L1354.4 664.3M1316.1 656.3L1334.8 654.6M1335.1 658.2A486.8 486.8 0 0 0 1334.5 651M1335.1 658.2L1353.8 656.7M1334.5 651L1353.1 649.1M1257.3 637.9L1275.9 635.1M1277.2 645.1A430.5 430.5 0 0 0 1274.3 625.1M1277.2 645.1L1314.5 640.5M1315.1 645.8A468 468 0 0 0 1313.8 635.3M1315.1 645.8L1352.3 641.6M1313.8 635.3L1332.4 632.8M1332.8 636.4A486.8 486.8 0 0 0 1331.9 629.2M1332.8 636.4L1351.4 634M1331.9 629.2L1350.4 626.5M1274.3 625.1L1292.8 622M1293.7 627.8A449.2 449.2 0 0 0 1291.7 616.1M1293.7 627.8L1349.3 619M1291.7 616.1L1310.2 612.7M1311.1 617.9A468 468 0 0 0 1309.2 607.5M1311.1 617.9L1348 611.5M1309.2 607.5L1327.6 603.9M1328.3 607.5A486.8 486.8 0 0 0 1326.9 600.3M1328.3 607.5L1346.7 604M1326.9 600.3L1345.2 596.6M1062.4 626L1080.1 620M1086.7 643A243 243 0 0 0 1071.3 597.7M1086.7 643L1305.9 592.1M1307 597.2A468 468 0 0 0 1304.6 586.9M1307 597.2L1343.6 589.1M1304.6 586.9L1322.8 582.5M1323.7 586A486.8 486.8 0 0 0 1322 578.9M1323.7 586L1341.9 581.7M1322 578.9L1340.1 574.4M1071.3 597.7L1088.4 590M1100.8 623.2A261.8 261.8 0 0 0 1071.6 558.8M1100.8 623.2L1244.6 580.3M1247.7 591.3A411.8 411.8 0 0 0 1241.2 569.4M1247.7 591.3L1338.2 567M1241.2 569.4L1259 563.6M1262.7 575.5A430.5 430.5 0 0 0 1254.9 551.7M1262.7 575.5L1298.7 564.9M1300.1 569.9A468 468 0 0 0 1297.1 559.8M1300.1 569.9L1336.2 559.7M1297.1 559.8L1315.1 554.3M1316.1 557.8A486.8 486.8 0 0 0 1314 550.8M1316.1 557.8L1334.1 552.4M1314 550.8L1331.8 545.1M1254.9 551.7L1272.5 545.4M1275 552.5A449.2 449.2 0 0 0 1269.9 538.2M1275 552.5L1310.5 540.4M1311.7 543.8A486.8 486.8 0 0 0 1309.3 536.9M1311.7 543.8L1329.5 537.9M1309.3 536.9L1327 530.7M1269.9 538.2L1287.4 531.6M1289.3 536.5A468 468 0 0 0 1285.5 526.6M1289.3 536.5L1324.4 523.6M1285.5 526.6L1302.9 519.8M1304.3 523.2A486.8 486.8 0 0 0 1301.6 516.4M1304.3 523.2L1321.8 516.5M1301.6 516.4L1319 509.4M1071.6 558.8L1087.5 548.8M1106.4 584.4A280.5 280.5 0 0 0 1063.7 516.3M1106.4 584.4L1243.6 523.6M1246.9 531.4A430.5 430.5 0 0 0 1240.1 515.9M1246.9 531.4L1316.1 502.4M1240.1 515.9L1257.1 507.9M1260.2 514.8A449.2 449.2 0 0 0 1253.8 501.1M1260.2 514.8L1294.5 499.5M1295.9 502.9A486.8 486.8 0 0 0 1293 496.2M1295.9 502.9L1313.1 495.4M1293 496.2L1310 488.4M1253.8 501.1L1270.6 492.8M1272.9 497.6A468 468 0 0 0 1268.3 488.1M1272.9 497.6L1306.8 481.5M1268.3 488.1L1285.1 479.7M1286.7 483A486.8 486.8 0 0 0 1283.4 476.4M1286.7 483L1303.5 474.7M1283.4 476.4L1300.1 467.9M1063.7 516.3L1078 504.1M1106 543A299.2 299.2 0 0 0 1044.1 470.2M1106 543L1186.2 494.5M1195.1 510A393 393 0 0 0 1176.6 479.4M1195.1 510L1261 474.1M1263.5 478.7A468 468 0 0 0 1258.4 469.5M1263.5 478.7L1296.6 461.2M1258.4 469.5L1274.8 460.3M1276.5 463.5A486.8 486.8 0 0 0 1273 457.1M1276.5 463.5L1293 454.5M1273 457.1L1289.3 447.9M1176.6 479.4L1192.1 468.9M1201.7 483.9A411.8 411.8 0 0 0 1181.9 454.4M1201.7 483.9L1217.7 474.2M1220.9 479.4A430.5 430.5 0 0 0 1214.5 469M1220.9 479.4L1285.5 441.3M1214.5 469L1230.4 459M1233.5 464.1A449.2 449.2 0 0 0 1227.2 454.1M1233.5 464.1L1281.6 434.8M1227.2 454.1L1243 443.9M1245.8 448.3A468 468 0 0 0 1240.1 439.5M1245.8 448.3L1277.5 428.3M1240.1 439.5L1255.7 429.1M1257.7 432.2A486.8 486.8 0 0 0 1253.7 426.1M1257.7 432.2L1273.4 421.9M1253.7 426.1L1269.2 415.6M1181.9 454.4L1197 443.3M1201.5 449.5A430.5 430.5 0 0 0 1192.4 437.1M1201.5 449.5L1247.5 417M1249.6 420A486.8 486.8 0 0 0 1245.3 414M1249.6 420L1265 409.3M1245.3 414L1260.6 403.1M1192.4 437.1L1207.4 425.7M1210.9 430.5A449.2 449.2 0 0 0 1203.7 421.1M1210.9 430.5L1256.1 397M1203.7 421.1L1218.5 409.5M1221.7 413.7A468 468 0 0 0 1215.2 405.4M1221.7 413.7L1251.5 390.9M1215.2 405.4L1229.9 393.7M1232.1 396.5A486.8 486.8 0 0 0 1227.6 390.8M1232.1 396.5L1246.9 384.9M1227.6 390.8L1242.1 379M1044.1 470.2L1056.3 456M1076.3 474.6A318 318 0 0 0 1034.7 439.2M1076.3 474.6L1129.7 421.9M1144.5 437.7A393 393 0 0 0 1114 406.9M1144.5 437.7L1158.5 425.3M1163.5 431A411.8 411.8 0 0 0 1153.5 419.7M1163.5 431L1220.5 382.4M1222.9 385.2A486.8 486.8 0 0 0 1218.2 379.6M1222.9 385.2L1237.3 373.1M1218.2 379.6L1232.3 367.3M1153.5 419.7L1167.3 407M1171.3 411.5A430.5 430.5 0 0 0 1163.1 402.6M1171.3 411.5L1227.3 361.6M1163.1 402.6L1176.8 389.7M1180.8 394A449.2 449.2 0 0 0 1172.7 385.5M1180.8 394L1222.2 356M1172.7 385.5L1186.2 372.4M1189.8 376.2A468 468 0 0 0 1182.5 368.6M1189.8 376.2L1217.1 350.4M1182.5 368.6L1195.8 355.4M1198.4 358A486.8 486.8 0 0 0 1193.2 352.9M1198.4 358L1211.8 345M1193.2 352.9L1206.4 339.6M1114 406.9L1139.2 379.1M1146.6 386A430.5 430.5 0 0 0 1131.6 372.4M1146.6 386L1185.3 345.2M1188 347.7A486.8 486.8 0 0 0 1182.7 342.7M1188 347.7L1201 334.2M1182.7 342.7L1195.5 329M1131.6 372.4L1143.9 358.2M1149.6 363.2A449.2 449.2 0 0 0 1138.1 353.3M1149.6 363.2L1174.6 335.3M1177.3 337.7A486.8 486.8 0 0 0 1171.9 332.9M1177.3 337.7L1189.9 323.9M1171.9 332.9L1184.3 318.8M1138.1 353.3L1150.1 338.9M1154.1 342.3A468 468 0 0 0 1146.1 335.5M1154.1 342.3L1178.5 313.8M1146.1 335.5L1157.9 321M1160.7 323.3A486.8 486.8 0 0 0 1155.1 318.7M1160.7 323.3L1172.7 308.9M1155.1 318.7L1166.8 304.1M1034.7 439.2L1045.6 423.9M1055.1 430.9A336.8 336.8 0 0 0 1035.9 417.2M1055.1 430.9L1146.4 311.9M1149.3 314.2A486.8 486.8 0 0 0 1143.5 309.7M1149.3 314.2L1160.9 299.4M1143.5 309.7L1154.8 294.8M1035.9 417.2L1046.3 401.6M1056.9 408.9A355.5 355.5 0 0 0 1035.5 394.7M1056.9 408.9L1122.3 317.4M1126.6 320.5A468 468 0 0 0 1118 314.3M1126.6 320.5L1148.7 290.2M1118 314.3L1128.7 299M1131.7 301.1A486.8 486.8 0 0 0 1125.7 296.9M1131.7 301.1L1142.6 285.8M1125.7 296.9L1136.4 281.4M1035.5 394.7L1045.2 378.7M1053.8 384.1A374.2 374.2 0 0 0 1036.5 373.5M1053.8 384.1L1104.9 305.5M1109.3 308.4A468 468 0 0 0 1100.4 302.6M1109.3 308.4L1130.1 277.2M1100.4 302.6L1110.5 286.8M1113.6 288.8A486.8 486.8 0 0 0 1107.4 284.9M1113.6 288.8L1123.7 273M1107.4 284.9L1117.3 268.9M1036.5 373.5L1045.8 357.3M1052.8 361.3A393 393 0 0 0 1038.8 353.3M1052.8 361.3L1110.8 265M1038.8 353.3L1047.9 336.9M1054.4 340.6A411.8 411.8 0 0 0 1041.2 333.3M1054.4 340.6L1091.7 275.5M1094.8 277.3A486.8 486.8 0 0 0 1088.5 273.7M1094.8 277.3L1104.3 261.1M1088.5 273.7L1097.7 257.3M1041.2 333.3L1049.9 316.7M1055.3 319.6A430.5 430.5 0 0 0 1044.5 314M1055.3 319.6L1091 253.7M1044.5 314L1053 297.2M1058.2 299.9A449.2 449.2 0 0 0 1047.7 294.6M1058.2 299.9L1084.3 250.1M1047.7 294.6L1056 277.8M1060.7 280.1A468 468 0 0 0 1051.2 275.5M1060.7 280.1L1077.6 246.6M1051.2 275.5L1059.3 258.5M1062.6 260.1A486.8 486.8 0 0 0 1056 257M1062.6 260.1L1070.8 243.2M1056 257L1063.9 240M850 698L843.4 681.2" fill="none" stroke="#1a1a1a" stroke-width="1.3" stroke-linecap="butt" stroke-linejoin="miter"/>
<g fill="#2b2b2b" fill-opacity="0.8"><circle cx="842.7" cy="192.6" r="5.1"/><circle cx="818.6" cy="231.1" r="5.1"/><circle cx="797.2" cy="195.3" r="5.1"/><circle cx="752.1" cy="202.1" r="5.1"/><circle cx="744.7" cy="203.6" r="5.1"/><circle cx="739.1" cy="262.6" r="5.1"/><circle cx="700.6" cy="215.1" r="5.1"/><circle cx="661.5" cy="249.3" r="5.1"/><circle cx="609.7" cy="253.3" r="5.1"/><circle cx="604.7" cy="299.5" r="5.1"/><circle cx="558.1" cy="285.3" r="5.1"/><circle cx="569.8" cy="323.2" r="5.1"/><circle cx="562.2" cy="458.8" r="5.1"/><circle cx="796.1" cy="684.9" r="5.1"/><circle cx="488.3" cy="1051.1" r="5.1"/></g><path d="M819.9 186.2l7.2 11.6h-14.4zM650.7 226.2l7.2 11.6h-14.4zM483.5 342.7l7.2 11.6h-14.4zM478.3 348.2l7.2 11.6h-14.4zM439.9 395.3l7.2 11.6h-14.4zM422.9 420.4l7.2 11.6h-14.4zM422.1 458.9l7.2 11.6h-14.4zM495.6 520.9l7.2 11.6h-14.4zM471.5 584.9l7.2 11.6h-14.4zM354.9 588.6l7.2 11.6h-14.4zM344.5 694.3l7.2 11.6h-14.4zM588.5 679.4l7.2 11.6h-14.4zM542.2 991.8l7.2 11.6h-14.4zM499.1 1054.6l7.2 11.6h-14.4zM531 1058.4l7.2 11.6h-14.4zM527.4 1080l7.2 11.6h-14.4zM655.6 965.8l7.2 11.6h-14.4zM824 1176.9l7.2 11.6h-14.4zM855.6 1140l7.2 11.6h-14.4zM904.4 1174.5l7.2 11.6h-14.4zM926.1 1171.6l7.2 11.6h-14.4zM952.6 1147.4l7.2 11.6h-14.4zM976.2 1160.9l7.2 11.6h-14.4zM999.3 1173.7l7.2 11.6h-14.4zM1020.9 1166.5l7.2 11.6h-14.4zM1178.5 765l7.2 11.6h-14.4zM1343.6 581.9l7.2 11.6h-14.4zM1322.8 575.3l7.2 11.6h-14.4zM1078 496.9l7.2 11.6h-14.4z" fill="#c2407f" fill-opacity="0.62"/>
<path d="M833.7 145.8A552.4 552.4 0 0 0 374.6 416.7M358.5 445.8A552.4 552.4 0 0 0 326.3 522.2M316.7 554A552.4 552.4 0 0 0 303.3 619M302.1 627.3A552.4 552.4 0 0 0 300.3 643.8M299.5 652A552.4 552.4 0 0 0 298.9 660.3M298.4 668.6A552.4 552.4 0 0 0 298 676.9M297.7 685.2A552.4 552.4 0 0 0 297.6 701.8M297.7 710.1A552.4 552.4 0 0 0 299.5 743.2M300.2 751.5A552.4 552.4 0 0 0 437.7 1065.7M443.3 1071.8A552.4 552.4 0 0 0 478.6 1106.9M503.9 1128.5A552.4 552.4 0 0 0 654.6 1214.7M662.4 1217.6A552.4 552.4 0 0 0 808.1 1248.8M816.4 1249.4A552.4 552.4 0 0 0 824.7 1249.8M849.6 1250.4A552.4 552.4 0 0 0 874.5 1249.9M891 1248.9A552.4 552.4 0 0 0 1021.1 1223.2M1044.6 1215A552.4 552.4 0 0 0 1333.6 965M1337.6 957.7A552.4 552.4 0 0 0 1376.2 866M1383.3 842.1A552.4 552.4 0 0 0 1391.2 587.2M1387.6 570.9A552.4 552.4 0 0 0 1385.6 562.9M1383.5 554.8A552.4 552.4 0 0 0 1362.5 491.9M1359.3 484.2A552.4 552.4 0 0 0 1341.9 446.6M1338 439.2A552.4 552.4 0 0 0 1083.7 197.5" fill="none" stroke="#000" stroke-width="2.4"/>
<g id="labels">
<text transform="translate(508.4,135.2) rotate(57.7) scale(1.000,1)" font-size="20.8" text-anchor="start">Ponerinae</text>
<text transform="translate(196.2,431.7) rotate(23.0) scale(1.000,1)" font-size="20.8" text-anchor="start">Dolichoderinae</text>
<text transform="translate(205.2,572.5) rotate(14.0) scale(1.000,1)" font-size="20.8" text-anchor="start">Myrmecia</text>
<text transform="translate(287.1,639.0) rotate(6.5) scale(1.000,1)" font-size="14.0" text-anchor="end">Lasius</text>
<text transform="translate(285.1,659.3) rotate(5.1) scale(1.000,1)" font-size="14.0" text-anchor="end">Plagiolepis</text>
<text transform="translate(284.1,676.6) rotate(3.7) scale(1.000,1)" font-size="14.0" text-anchor="end">Oecophylla</text>
<text transform="translate(283.6,697.7) rotate(1.2) scale(1.000,1)" font-size="14.0" text-anchor="end">Cataglyphis</text>
<text transform="translate(284.1,733.1) rotate(-0.9) scale(1.000,1)" font-size="14.0" text-anchor="end">Formica</text>
<text transform="translate(224.6,978.0) rotate(-21.8) scale(1.000,1)" font-size="20.8" text-anchor="start">Camponotus</text>
<text transform="translate(375.1,1187.3) rotate(-46.0) scale(1.000,1)" font-size="20.8" text-anchor="start">Ectatommini</text>
<text transform="translate(518.7,1288.5) rotate(-60.9) scale(1.000,1)" font-size="20.8" text-anchor="start">Stenammini</text>
<text transform="translate(696.2,1376.6) rotate(-77.9) scale(1.000,1)" font-size="20.8" text-anchor="start">Solenopsidini</text>
<text transform="translate(719.3,1408.5) rotate(-77.9) scale(1.000,1)" font-size="20.8" text-anchor="start">cluding fire ants)</text>
<text transform="translate(820.9,1345.5) rotate(-86.0) scale(1.000,1)" font-size="14.0" text-anchor="start">Apterostigma</text>
<text transform="translate(856.7,1266.3) rotate(87.9) scale(1.000,1)" font-size="14.0" text-anchor="start">Cyphomyrmex</text>
<text transform="translate(997.5,1247.6) rotate(80.2) scale(1.000,1)" font-size="20.8" text-anchor="start">Fungus–growing</text>
<text transform="translate(968.6,1252.6) rotate(80.2) scale(1.000,1)" font-size="20.8" text-anchor="start">ants (including</text>
<text transform="translate(939.8,1257.6) rotate(80.2) scale(1.000,1)" font-size="20.8" text-anchor="start">Atta and</text>
<text transform="translate(910.9,1262.6) rotate(80.2) scale(1.000,1)" font-size="20.8" text-anchor="start">Acromyrmex)</text>
<text transform="translate(1228.2,1124.8) rotate(51.0) scale(1.000,1)" font-size="20.8" text-anchor="start">Pheidole</text>
<text transform="translate(1205.4,1143.2) rotate(51.0) scale(1.000,1)" font-size="20.8" text-anchor="start">(big–headed ants)</text>
<text transform="translate(1371.3,927.4) rotate(20.3) scale(1.000,1)" font-size="20.8" text-anchor="start">Tetramorium</text>
<text transform="translate(1416.2,721.8) rotate(2.4) scale(1.000,1)" font-size="20.8" text-anchor="start">Temnothorax</text>
<text transform="translate(1401.1,567.6) rotate(-15.1) scale(1.000,1)" font-size="14.0" text-anchor="start">Metapone</text>
<text transform="translate(1389.3,522.5) rotate(-14.7) scale(1.000,1)" font-size="20.8" text-anchor="start">Carebara</text>
<text transform="translate(1366.0,462.3) rotate(-22.3) scale(1.000,1)" font-size="20.8" text-anchor="start">Cardiocondyla</text>
<text transform="translate(1244.3,292.7) rotate(-47.0) scale(1.000,1)" font-size="20.6" text-anchor="start">Crematogaster</text>
<path d="M1317 196.5L1336.5 181L1329 172L1309 187.5Z" fill="#fff"/>
</g>
<g transform="translate(280,160) scale(0.14364)" fill="#000" stroke="#000" stroke-linecap="round" stroke-linejoin="round">
<path stroke="none" d="M462,520 C448,565 466,626 508,656 C530,676 566,690 590,668 C604,622 596,556 564,516 C545,492 498,486 462,520Z"/>
<path stroke="none" d="M446,516 L392,442 L380,350 L394,334 L404,398 L402,286 L420,286 L432,402 L486,482 L472,522Z"/>
<path fill="none" stroke-width="10" d="M352,376 L388,400"/>
<path fill="none" stroke-width="8" d="M548,498 C538,400 522,300 500,200 C492,160 482,135 471,122"/>
<path stroke="none" d="M530,700 C560,650 626,660 658,716 C698,788 728,850 732,902 C734,944 710,966 688,990 C664,1006 646,966 634,932 C612,880 594,832 584,784 C570,746 540,730 530,700Z"/>
<path stroke="none" d="M644,956 C680,934 766,934 798,966 L790,1014 C746,1038 688,1028 656,1006Z"/>
<ellipse cx="722" cy="988" rx="24" ry="11" fill="#fff" stroke="none" transform="rotate(-15 722 988)"/>
<path stroke="none" d="M764,990 C800,950 856,974 888,1008 C928,1058 958,1120 948,1154 L908,1208 C868,1184 816,1114 786,1064 C770,1034 758,1012 764,990Z"/>
<path fill="none" stroke-width="30" d="M560,770 L450,722 L352,692"/>
<path fill="none" stroke-width="18" d="M352,692 L240,718 L165,744 L124,728"/>
<path stroke="none" d="M548,706 L498,792 L560,870 L610,800Z"/>
<path fill="none" stroke-width="11" d="M520,794 L466,802 L420,880 L382,952"/>
<path fill="none" stroke-width="22" d="M612,936 L520,912 L380,966"/>
<path fill="none" stroke-width="14" d="M380,966 L272,1020"/>
<path fill="none" stroke-width="12" d="M332,982 L346,1002"/>
<path fill="none" stroke-width="15" d="M722,945 L882,872 L940,1000"/>
<path fill="none" stroke-width="9" d="M940,1000 L965,1080 L1004,1110"/>
<path fill="none" stroke-width="14" d="M790,975 L868,960 L878,1000"/>
<path fill="none" stroke-width="13" d="M862,1140 L838,1230 L830,1290"/>
<path fill="none" stroke-width="8" d="M830,1290 L842,1350 L862,1376"/>
</g>
<g transform="translate(80,760) scale(0.11)" fill="#000" stroke="#000" stroke-linecap="round" stroke-linejoin="round">
<path stroke="none" d="M640,400 C690,345 770,325 832,350 L862,402 C842,462 782,542 722,602 C700,640 655,655 630,622 C612,560 618,462 640,400Z"/>
<path stroke="none" d="M826,352 C880,300 960,278 1022,278 C1092,284 1152,320 1186,366 L1214,328 L1262,440 L1192,488 C1150,472 1122,452 1100,442 L1000,386 C960,402 900,404 858,408Z"/>
<path stroke="none" d="M1212,332 C1218,262 1238,200 1258,162 L1300,196 L1334,158 C1400,178 1470,228 1522,280 C1552,310 1574,340 1562,368 C1500,388 1420,408 1340,412 C1290,416 1252,432 1224,442Z"/>
<path fill="#fff" stroke="none" d="M1268,190 L1308,216 L1256,228Z M1342,176 L1392,206 L1338,212Z"/>
<path fill="none" stroke-width="20" d="M1560,340 L1640,372 L1700,402 L1780,458 L1830,466 L1874,440"/>
<path fill="none" stroke-width="14" d="M1572,345 L1610,392 L1660,400 L1696,368"/>
<path fill="none" stroke-width="16" d="M642,402 L600,378 L520,352 L400,326 L300,302 L226,300"/>
<path fill="none" stroke-width="16" d="M624,424 L560,430 L500,460 L440,500 L300,552 L200,596 L146,630"/>
<path stroke="none" d="M992,384 L1068,496 L1012,522 L932,542 L896,566 L928,452Z"/>
<path fill="#fff" stroke="none" d="M938,470 L975,478 L940,498Z"/>
<path fill="none" stroke-width="33" d="M902,555 L908,640 L918,700"/>
<path fill="none" stroke-width="18" d="M918,700 L950,800 L976,880 L938,910"/>
<path fill="none" stroke-width="15" d="M906,690 L900,770 L870,795"/>
<path fill="none" stroke-width="22" d="M1082,440 L1130,560 L1168,650"/>
<path fill="none" stroke-width="16" d="M1168,650 L1188,700 L1190,742 L1156,760"/>
<path fill="none" stroke-width="22" d="M1266,442 L1340,580 L1400,680"/>
<path fill="none" stroke-width="16" d="M1400,680 L1440,740 L1460,768"/>
</g>
<g transform="translate(220,1080) scale(0.14364)" fill="#000" stroke="#000" stroke-linecap="round" stroke-linejoin="round">
<path fill="none" stroke-width="25" d="M358,545 L335,485 L270,425"/>
<path fill="none" stroke-width="20" d="M270,425 L205,365 L160,290 L120,200 L76,142"/>
<path fill="none" stroke-width="17" d="M420,538 L490,460 L530,400"/>
<path fill="none" stroke-width="13" d="M530,400 L570,310 L630,160 L656,70"/>
<path stroke="none" d="M248,590 C300,558 360,543 422,543 C482,578 542,628 572,688 L564,732 C522,762 470,782 430,777 C370,742 318,692 290,642 C275,612 252,606 248,590Z"/>
<path stroke="none" d="M498,780 L562,728 C602,716 652,738 692,788 C712,828 722,858 762,878 L824,918 L830,960 L900,905 L960,880 L930,990 L820,1070 L740,1050 L730,1000 L670,1040 L610,1060 L540,1020 L548,900 C524,852 506,822 498,780Z"/>
<path fill="#fff" stroke="none" d="M486,906 L586,976 L530,982 L492,946Z M610,1006 L662,964 L668,1000 L640,1022Z M812,1032 L868,986 L850,968 L806,1000Z M815,925 L835,915 L830,955 L812,960Z"/>
<path stroke="none" d="M900,1040 C900,960 940,890 992,878 C1052,920 1092,1010 1086,1100 C1082,1180 1030,1240 960,1256 C920,1200 896,1120 900,1040Z"/>
<path fill="#fff" stroke="none" d="M985,900 C1000,905 1015,935 1012,950 C1000,940 985,915 985,900Z"/>
<path fill="none" stroke-width="28" d="M846,902 L962,752"/>
<path fill="none" stroke-width="16" d="M964,752 L972,800 L960,885"/>
<path fill="none" stroke-width="14" d="M1092,1080 L1140,1200 L1160,1270"/>
<path fill="none" stroke-width="8" d="M1160,1270 L1182,1332 L1230,1384 L1264,1390"/>
<path fill="none" stroke-width="34" d="M560,965 L450,948 L352,954 L328,1050 L330,1120"/>
<path fill="none" stroke-width="12" d="M330,1120 L346,1210 L320,1264 M345,1090 L362,1106"/>
<path fill="none" stroke-width="30" d="M498,1010 L500,1100 L505,1150"/>
<path fill="none" stroke-width="12" d="M505,1150 L490,1250 L450,1330 L380,1360 M510,1160 L526,1210 L515,1255"/>
</g>
<g transform="translate(1040,1220) scale(0.14368)" fill="#000" stroke="#000" stroke-linecap="round" stroke-linejoin="round">
<path fill="none" stroke-width="20" d="M134,46 L142,120 L340,250"/>
<path fill="none" stroke-width="33" d="M340,250 L598,378 L562,470"/>
<path stroke="none" d="M343,525 L410,475 L480,458 L562,468 C592,500 612,550 607,600 L592,642 L520,622 L440,602 L390,570Z"/>
<path stroke="none" d="M428,642 L440,598 L607,598 L622,700 L652,760 L732,790 L748,832 L722,872 L760,878 C822,888 862,930 857,982 C832,1042 782,1082 722,1102 L692,1142 L642,1152 L588,1194 L620,1150 L652,1120 C622,1082 600,1040 600,1000 L560,980 L500,905 L450,842 L560,830 L470,790 L430,730Z"/>
<path fill="#fff" stroke="none" d="M455,640 L490,614 L542,640 L500,682Z M545,898 L600,940 L612,990 L575,960Z"/>
<path fill="none" stroke-width="24" d="M596,592 L800,628 L586,664"/>
<path fill="none" stroke-width="18" d="M622,682 L650,708"/>
<path fill="none" stroke-width="24" d="M440,742 L360,756 L292,780 L282,802"/>
<path fill="none" stroke-width="21" d="M520,866 L392,910 L382,942"/>
<path fill="none" stroke-width="24" d="M570,925 L382,980 L272,1030 L276,1064"/>
<path fill="none" stroke-width="27" d="M625,1015 L430,1116"/>
<path fill="none" stroke-width="18" d="M430,1116 L352,1200 L346,1250"/>
<path fill="none" stroke-width="15" d="M742,1100 L700,1200 L620,1320 L546,1370 M770,1100 L772,1250 L746,1350"/>
</g>
<g transform="translate(1300,1040) scale(0.12314)" fill="#000" stroke="#000" stroke-linecap="round" stroke-linejoin="round">
<path fill="none" stroke-width="19" d="M116,146 L170,196 L260,230 L400,224"/>
<path fill="none" stroke-width="32" d="M400,224 L520,228"/>
<path stroke="none" d="M478,330 L500,260 L522,222 L700,213 C760,224 820,254 862,280 L1022,258 L1044,274 L992,352 L922,442 L884,482 L932,494 L1062,478 L1012,544 L1082,554 C1122,580 1148,600 1142,660 L1138,672 L1250,654 C1312,690 1352,770 1347,860 C1342,920 1332,960 1322,982 L1262,1042 L1202,1112 L1100,1178 L1110,1082 L1060,962 L1018,932 L1040,792 L940,782 L868,742 L880,690 L932,660 L822,662 L780,600 L720,442 L660,426 C600,400 520,372 478,330Z"/>
<path fill="#fff" stroke="none" d="M876,316 L1000,286 L922,356Z M776,430 L832,390 L852,420 L822,470 L790,520 L764,500Z M1040,750 L1075,748 L1060,770Z"/>
<path fill="none" stroke-width="25" d="M832,612 L700,710"/>
<path fill="none" stroke-width="17" d="M700,710 L612,770 L596,810"/>
<path fill="none" stroke-width="23" d="M1040,962 L1022,1040 L972,1120"/>
<path fill="none" stroke-width="16" d="M972,1120 L966,1170 L990,1214 M1010,952 L976,986 L976,1024"/>
<path fill="none" stroke-width="23" d="M1322,986 L1354,1012 L1352,1110"/>
<path fill="none" stroke-width="16" d="M1352,1110 L1400,1260 L1410,1310 L1400,1350"/>
<path fill="none" stroke-width="19" d="M1266,1042 L1280,1100 L1266,1134"/>
</g>
<g transform="translate(1400,770) scale(0.09)" fill="#000" stroke="#000" stroke-linecap="round" stroke-linejoin="round">
<path stroke="none" d="M138,400 C148,280 260,178 400,168 C560,168 702,250 752,330 C762,420 732,520 692,580 C622,640 520,662 440,657 C300,642 158,540 138,400Z"/>
<path stroke="none" d="M700,480 L752,325 L862,292 L874,330 L902,460 L922,572 L962,582 L976,528 L1100,498 L1182,412 L1212,424 L1196,494 L1282,510 C1352,540 1402,600 1422,650 L1482,660 L1502,720 L1500,745 C1580,780 1622,860 1622,950 C1602,1020 1562,1080 1500,1092 C1420,1070 1350,1000 1340,900 C1345,870 1360,848 1380,832 L1280,836 L1180,820 L1080,790 L1000,760 L960,722 L900,652 L800,572 L720,542Z"/>
<path fill="#fff" stroke="none" d="M765,356 L832,320 L862,492 L822,480 L780,420Z M1410,690 L1470,680 L1462,752 L1420,730Z"/>
<path fill="none" stroke-width="26" d="M1620,980 L1790,912 L1800,1000 L1796,1120"/>
<path fill="none" stroke-width="34" d="M1796,1120 L1786,1196"/>
<path fill="none" stroke-width="34" d="M962,702 L870,690 L740,700 L620,702 L500,752"/>
<path fill="none" stroke-width="26" d="M500,752 L420,822 L302,850"/>
<path fill="none" stroke-width="34" d="M1000,770 L1000,900 L1010,1050"/>
<path fill="none" stroke-width="18" d="M1010,1050 L1050,1150 L1070,1200"/>
<path fill="none" stroke-width="31" d="M1200,832 L1222,902 L1290,962 L1300,1040"/>
<path fill="none" stroke-width="17" d="M1300,1040 L1340,1084 M1290,1050 L1300,1104"/>
<path fill="none" stroke-width="26" d="M1500,1086 L1370,1116 L1420,1190 L1470,1260"/>
<path fill="none" stroke-width="36" d="M1470,1260 L1486,1326"/>
</g>
<g transform="translate(1280,170) scale(0.1368)" fill="#000" stroke="#000" stroke-linecap="round" stroke-linejoin="round">
<path stroke="none" d="M78,986 C150,880 250,760 340,730 C400,718 452,740 472,790 C502,850 502,902 472,952 C420,1012 300,1042 200,1032 C150,1022 100,1002 78,986Z"/>
<path stroke="none" d="M450,760 L500,700 L540,700 L600,560 L620,535 L700,515 L740,540 C750,400 840,350 950,348 C1022,380 1072,440 1062,500 C1042,572 962,642 860,652 C830,654 800,648 780,640 L742,702 L700,742 L650,772 L600,792 L570,770 L540,802 L480,802Z"/>
<path fill="none" stroke-width="16" d="M950,372 L1000,332 L1060,272 L1180,202"/>
<path fill="none" stroke-width="28" d="M1180,202 L1300,132"/>
<path fill="none" stroke-width="12" d="M978,382 L1040,352 L1062,312"/>
<path fill="none" stroke-width="18" d="M1040,562 L1100,630 L1250,650"/>
<path fill="none" stroke-width="30" d="M1250,650 L1330,690 L1388,718"/>
<path fill="none" stroke-width="32" d="M742,702 L820,712 L920,710"/>
<path fill="none" stroke-width="18" d="M920,710 L990,696 L990,722 L960,746"/>
<path fill="none" stroke-width="37" d="M612,622 L480,580 L400,552"/>
<path fill="none" stroke-width="21" d="M400,552 L320,552 L285,580"/>
<path fill="none" stroke-width="9" d="M285,580 L250,610 L166,606"/>
<path fill="none" stroke-width="16" d="M592,582 L542,532 L490,520"/>
<path fill="none" stroke-width="39" d="M642,762 L580,900 L520,1000"/>
<path fill="none" stroke-width="25" d="M520,1000 L490,1080 L486,1180"/>
<path fill="none" stroke-width="16" d="M486,1180 L492,1300 L462,1380"/>
<path fill="none" stroke-width="37" d="M702,742 L740,880 L780,950"/>
<path fill="none" stroke-width="23" d="M780,950 L880,1060"/>
<path fill="none" stroke-width="14" d="M880,1060 L950,1150 L976,1194"/>
</g>

<g id="legend">
<text transform="translate(1597,519) scale(1.05,1)" font-size="24.3">Transitions</text>
<path d="M1617.5 547.5l8.6 14.6h-17.2z" fill="#c5437f"/>
<text transform="translate(1650.5,563.2) scale(1.08,1)" font-size="19.6">Gains of reproductive potential</text>
<circle cx="1617.5" cy="597.2" r="5.4" fill="#000"/>
<text transform="translate(1650.5,605) scale(1.08,1)" font-size="19.6">Losses of reproductive potential</text>
<text transform="translate(1597,690) scale(1.07,1)" font-size="24.3">Category of Worker</text>
<text transform="translate(1597,718.6) scale(1.06,1)" font-size="24.3">Reproductive Potential</text>
<rect x="1598.5" y="737.2" width="38.4" height="37.4" fill="#c5437f"/>
<rect x="1598.5" y="778" width="38.4" height="37" fill="#e8a8d0"/>
<rect x="1598.5" y="818.4" width="38.4" height="37" fill="#f5d0e0"/>
<rect x="1598.5" y="859" width="38.4" height="37.6" fill="#fbebe9"/>
<text transform="translate(1650.5,762.5) scale(1.085,1)" font-size="19.6">full</text>
<text transform="translate(1650.5,803) scale(1.085,1)" font-size="19.6">reduced</text>
<text transform="translate(1650.5,843.5) scale(1.085,1)" font-size="19.6">males only</text>
<text transform="translate(1650.5,885.2) scale(1.09,1)" font-size="19.6">no offspring</text>
</g>

</svg>
</body></html>
